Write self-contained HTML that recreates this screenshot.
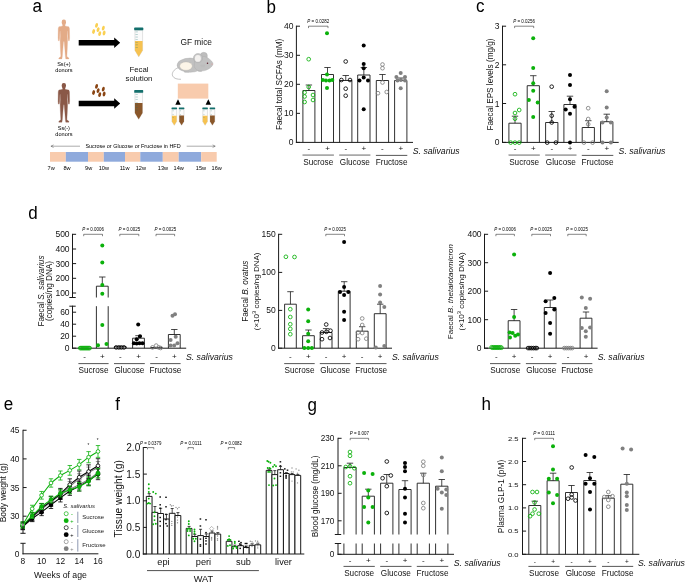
<!DOCTYPE html>
<html lang="en"><head><meta charset="utf-8"><title>Figure</title>
<style>html,body{margin:0;padding:0;background:#fff}svg{display:block;will-change:transform}text{font-family:"Liberation Sans",sans-serif}</style>
</head><body>
<svg width="685" height="582" viewBox="0 0 685 582">
<rect width="685" height="582" fill="#fff"/>
<text x="32.4" y="12.3" font-size="18" fill="#000" textLength="9.46" lengthAdjust="spacingAndGlyphs">a</text>
<text x="266.5" y="12.7" font-size="18" fill="#000" textLength="9.46" lengthAdjust="spacingAndGlyphs">b</text>
<text x="476.0" y="12.3" font-size="18" fill="#000" textLength="8.50" lengthAdjust="spacingAndGlyphs">c</text>
<text x="28.2" y="218.6" font-size="18" fill="#000" textLength="9.46" lengthAdjust="spacingAndGlyphs">d</text>
<text x="3.8" y="410.4" font-size="18" fill="#000" textLength="9.46" lengthAdjust="spacingAndGlyphs">e</text>
<text x="115.3" y="410.4" font-size="18" fill="#000" textLength="4.73" lengthAdjust="spacingAndGlyphs">f</text>
<text x="307.6" y="410.6" font-size="18" fill="#000" textLength="9.46" lengthAdjust="spacingAndGlyphs">g</text>
<text x="481.6" y="410.2" font-size="18" fill="#000" textLength="9.46" lengthAdjust="spacingAndGlyphs">h</text>
<g transform="translate(63.85 19.1)" fill="#e3ab87"><rect x="-2.15" y="0.5" width="4.3" height="5.5" rx="2.0" ry="2.3"/><path d="M1.2 5.4L1.2 6.9L3.2 7.3L5.0 7.7L5.6 9.4L5.75 19.0L5.45 21.7L4.65 21.7L4.25 19.4L3.95 12.2L3.65 11.6L3.45 17.0L3.7 22.0L3.4 30.0L3.0 37.4L5.0 38.9L5.0 39.8L1.95 39.8L1.55 37.4L1.0 30.0L0.35 22.3L-0.35 22.3L-1.0 30.0L-1.55 37.4L-1.95 39.8L-5.0 39.8L-5.0 38.9L-3.0 37.4L-3.4 30.0L-3.7 22.0L-3.45 17.0L-3.65 11.6L-3.95 12.2L-4.25 19.4L-4.65 21.7L-5.45 21.7L-5.75 19.0L-5.6 9.4L-5.0 7.7L-3.2 7.3L-1.2 6.9L-1.2 5.4Z" stroke="#e3ab87" stroke-width="0.3" stroke-linejoin="round"/></g>
<g transform="translate(63.85 82.4)" fill="#8a5847"><rect x="-2.15" y="0.5" width="4.3" height="5.5" rx="2.0" ry="2.3"/><path d="M1.2 5.4L1.2 6.9L3.2 7.3L5.0 7.7L5.6 9.4L5.75 19.0L5.45 21.7L4.65 21.7L4.25 19.4L3.95 12.2L3.65 11.6L3.45 17.0L3.7 22.0L3.4 30.0L3.0 37.4L5.0 38.9L5.0 39.8L1.95 39.8L1.55 37.4L1.0 30.0L0.35 22.3L-0.35 22.3L-1.0 30.0L-1.55 37.4L-1.95 39.8L-5.0 39.8L-5.0 38.9L-3.0 37.4L-3.4 30.0L-3.7 22.0L-3.45 17.0L-3.65 11.6L-3.95 12.2L-4.25 19.4L-4.65 21.7L-5.45 21.7L-5.75 19.0L-5.6 9.4L-5.0 7.7L-3.2 7.3L-1.2 6.9L-1.2 5.4Z" stroke="#8a5847" stroke-width="0.3" stroke-linejoin="round"/></g>
<path d="M78.7 40.00H114.2V37.40L120.2 42.70L114.2 48.00V45.40H78.7Z" fill="#000"/>
<path d="M78.7 100.80H114.2V98.20L120.2 103.50L114.2 108.80V106.20H78.7Z" fill="#000"/>
<ellipse cx="96.55" cy="25.40" rx="1.4" ry="2.45" fill="#fad052" transform="rotate(16 96.55 25.40)"/>
<ellipse cx="93.6" cy="31.50" rx="1.4" ry="2.45" fill="#fad052" transform="rotate(16 93.6 31.50)"/>
<ellipse cx="98.1" cy="29.60" rx="1.4" ry="2.45" fill="#fad052" transform="rotate(16 98.1 29.60)"/>
<ellipse cx="103.3" cy="28.10" rx="1.4" ry="2.45" fill="#fad052" transform="rotate(16 103.3 28.10)"/>
<ellipse cx="99.7" cy="33.60" rx="1.4" ry="2.45" fill="#fad052" transform="rotate(16 99.7 33.60)"/>
<ellipse cx="104.1" cy="33.00" rx="1.4" ry="2.45" fill="#fad052" transform="rotate(16 104.1 33.00)"/>
<ellipse cx="96.55" cy="86.40" rx="1.4" ry="2.45" fill="#8a4513" transform="rotate(16 96.55 86.40)"/>
<ellipse cx="93.6" cy="92.50" rx="1.4" ry="2.45" fill="#8a4513" transform="rotate(16 93.6 92.50)"/>
<ellipse cx="98.1" cy="90.60" rx="1.4" ry="2.45" fill="#8a4513" transform="rotate(16 98.1 90.60)"/>
<ellipse cx="103.3" cy="89.10" rx="1.4" ry="2.45" fill="#8a4513" transform="rotate(16 103.3 89.10)"/>
<ellipse cx="99.7" cy="94.60" rx="1.4" ry="2.45" fill="#8a4513" transform="rotate(16 99.7 94.60)"/>
<ellipse cx="104.1" cy="94.00" rx="1.4" ry="2.45" fill="#8a4513" transform="rotate(16 104.1 94.00)"/>
<path d="M134.93 30.30V50.40L138.75 56.80L142.57 50.40V30.30Z" fill="#fbfbfb" stroke="#c9c9c9" stroke-width="0.5"/>
<path d="M134.93 40.90V50.40L138.75 56.80L142.57 50.40V40.90Z" fill="#f6c251"/>
<rect x="134.20" y="27.60" width="9.10" height="2.70" rx="0.6" fill="#136f6c"/>
<line x1="135.53" y1="31.90" x2="137.84" y2="31.90" stroke="#136f6c" stroke-width="0.4" opacity="0.75"/>
<line x1="135.53" y1="34.49" x2="137.84" y2="34.49" stroke="#136f6c" stroke-width="0.4" opacity="0.75"/>
<line x1="135.53" y1="37.07" x2="137.84" y2="37.07" stroke="#136f6c" stroke-width="0.4" opacity="0.75"/>
<line x1="135.53" y1="39.66" x2="137.84" y2="39.66" stroke="#136f6c" stroke-width="0.4" opacity="0.75"/>
<line x1="135.53" y1="42.24" x2="137.84" y2="42.24" stroke="#136f6c" stroke-width="0.4" opacity="0.75"/>
<line x1="135.53" y1="44.83" x2="137.84" y2="44.83" stroke="#136f6c" stroke-width="0.4" opacity="0.75"/>
<line x1="135.53" y1="47.41" x2="137.84" y2="47.41" stroke="#136f6c" stroke-width="0.4" opacity="0.75"/>
<path d="M134.92 92.80V113.00L138.70 119.30L142.48 113.00V92.80Z" fill="#fbfbfb" stroke="#c9c9c9" stroke-width="0.5"/>
<path d="M134.92 103.00V113.00L138.70 119.30L142.48 113.00V103.00Z" fill="#8a572a"/>
<rect x="134.20" y="90.10" width="9.00" height="2.70" rx="0.6" fill="#136f6c"/>
<line x1="135.52" y1="94.40" x2="137.80" y2="94.40" stroke="#136f6c" stroke-width="0.4" opacity="0.75"/>
<line x1="135.52" y1="97.00" x2="137.80" y2="97.00" stroke="#136f6c" stroke-width="0.4" opacity="0.75"/>
<line x1="135.52" y1="99.60" x2="137.80" y2="99.60" stroke="#136f6c" stroke-width="0.4" opacity="0.75"/>
<line x1="135.52" y1="102.20" x2="137.80" y2="102.20" stroke="#136f6c" stroke-width="0.4" opacity="0.75"/>
<line x1="135.52" y1="104.80" x2="137.80" y2="104.80" stroke="#136f6c" stroke-width="0.4" opacity="0.75"/>
<line x1="135.52" y1="107.40" x2="137.80" y2="107.40" stroke="#136f6c" stroke-width="0.4" opacity="0.75"/>
<line x1="135.52" y1="110.00" x2="137.80" y2="110.00" stroke="#136f6c" stroke-width="0.4" opacity="0.75"/>
<path d="M171.95 109.20V121.60L174.30 125.30L176.65 121.60V109.20Z" fill="#fbfbfb" stroke="#c9c9c9" stroke-width="0.5"/>
<path d="M171.95 115.80V121.60L174.30 125.30L176.65 121.60V115.80Z" fill="#f6c251"/>
<rect x="171.50" y="107.50" width="5.60" height="1.70" rx="0.6" fill="#136f6c"/>
<line x1="172.55" y1="110.80" x2="173.74" y2="110.80" stroke="#136f6c" stroke-width="0.4" opacity="0.75"/>
<line x1="172.55" y1="114.27" x2="173.74" y2="114.27" stroke="#136f6c" stroke-width="0.4" opacity="0.75"/>
<line x1="172.55" y1="117.73" x2="173.74" y2="117.73" stroke="#136f6c" stroke-width="0.4" opacity="0.75"/>
<path d="M179.25 109.20V121.60L181.60 125.30L183.95 121.60V109.20Z" fill="#fbfbfb" stroke="#c9c9c9" stroke-width="0.5"/>
<path d="M179.25 115.60V121.60L181.60 125.30L183.95 121.60V115.60Z" fill="#8a572a"/>
<rect x="178.80" y="107.50" width="5.60" height="1.70" rx="0.6" fill="#136f6c"/>
<line x1="179.85" y1="110.80" x2="181.04" y2="110.80" stroke="#136f6c" stroke-width="0.4" opacity="0.75"/>
<line x1="179.85" y1="114.27" x2="181.04" y2="114.27" stroke="#136f6c" stroke-width="0.4" opacity="0.75"/>
<line x1="179.85" y1="117.73" x2="181.04" y2="117.73" stroke="#136f6c" stroke-width="0.4" opacity="0.75"/>
<path d="M202.75 109.20V121.60L205.10 125.30L207.45 121.60V109.20Z" fill="#fbfbfb" stroke="#c9c9c9" stroke-width="0.5"/>
<path d="M202.75 115.80V121.60L205.10 125.30L207.45 121.60V115.80Z" fill="#f6c251"/>
<rect x="202.30" y="107.50" width="5.60" height="1.70" rx="0.6" fill="#136f6c"/>
<line x1="203.35" y1="110.80" x2="204.54" y2="110.80" stroke="#136f6c" stroke-width="0.4" opacity="0.75"/>
<line x1="203.35" y1="114.27" x2="204.54" y2="114.27" stroke="#136f6c" stroke-width="0.4" opacity="0.75"/>
<line x1="203.35" y1="117.73" x2="204.54" y2="117.73" stroke="#136f6c" stroke-width="0.4" opacity="0.75"/>
<path d="M210.05 109.20V121.60L212.40 125.30L214.75 121.60V109.20Z" fill="#fbfbfb" stroke="#c9c9c9" stroke-width="0.5"/>
<path d="M210.05 115.60V121.60L212.40 125.30L214.75 121.60V115.60Z" fill="#8a572a"/>
<rect x="209.60" y="107.50" width="5.60" height="1.70" rx="0.6" fill="#136f6c"/>
<line x1="210.65" y1="110.80" x2="211.84" y2="110.80" stroke="#136f6c" stroke-width="0.4" opacity="0.75"/>
<line x1="210.65" y1="114.27" x2="211.84" y2="114.27" stroke="#136f6c" stroke-width="0.4" opacity="0.75"/>
<line x1="210.65" y1="117.73" x2="211.84" y2="117.73" stroke="#136f6c" stroke-width="0.4" opacity="0.75"/>
<text x="63.90" y="66.00" font-size="5.6" text-anchor="middle" fill="#000">Ss(+)</text>
<text x="63.90" y="72.40" font-size="5.6" text-anchor="middle" fill="#000">donors</text>
<text x="63.90" y="129.90" font-size="5.6" text-anchor="middle" fill="#000">Ss(-)</text>
<text x="63.90" y="136.20" font-size="5.6" text-anchor="middle" fill="#000">donors</text>
<text x="139.00" y="72.00" font-size="7.8" text-anchor="middle" fill="#111">Fecal</text>
<text x="139.00" y="80.90" font-size="7.8" text-anchor="middle" fill="#111">solution</text>
<text x="196.20" y="44.70" font-size="8.4" text-anchor="middle" fill="#111">GF mice</text>
<g>
<path d="M177.8 67.8C174 69.4 171.4 72.8 172.6 75.9C173.8 78.6 177.4 79.4 180.6 79.3" fill="none" stroke="#9a9a9a" stroke-width="0.6" stroke-linecap="round"/>
<circle cx="203.8" cy="55.9" r="3.6" fill="#bdbdbd" stroke="#a6a6a6" stroke-width="0.35"/>
<ellipse cx="186.6" cy="71.7" rx="2.6" ry="0.9" fill="#b9b9b9"/>
<ellipse cx="200.0" cy="70.8" rx="2.4" ry="0.9" fill="#b9b9b9"/>
<ellipse cx="190.0" cy="65.2" rx="12.9" ry="7.1" fill="#c1c1c1" stroke="#a9a9a9" stroke-width="0.4"/>
<path d="M194.6 60.2C196.5 56.2 203.5 55.0 208.0 58.0C211.0 60.2 213.2 62.4 213.0 64.0C212.7 66.2 209.6 69.2 204.6 70.6C199.4 71.8 195.2 70.2 194.2 66.2Z" fill="#c1c1c1" stroke="#a9a9a9" stroke-width="0.4"/>
<circle cx="198.0" cy="58.1" r="4.6" fill="#c4c4c4" stroke="#a6a6a6" stroke-width="0.4"/>
<ellipse cx="197.9" cy="58.4" rx="3.0" ry="3.4" fill="#f3f1ef"/>
<ellipse cx="186.0" cy="66.1" rx="6.3" ry="4.2" fill="#fcf5e8" stroke="#b5b0a8" stroke-width="0.3"/>
<path d="M200.4 65.4H205M200.8 66.6H204.6" stroke="#b0b0b0" stroke-width="0.3" fill="none"/>
<circle cx="207.5" cy="63.3" r="0.75" fill="#5a1e2a"/>
<circle cx="212.0" cy="64.1" r="0.7" fill="#e3a3a3"/>
</g>
<rect x="177.8" y="83.6" width="30.5" height="15.0" fill="#f8cbad"/>
<path d="M175.30 104.7L178.00 99.2L180.70 104.7Z" fill="#000"/>
<path d="M205.60 104.7L208.30 99.2L211.00 104.7Z" fill="#000"/>
<path d="M80 146.2H51.2M53.6 144.9L50.9 146.2L53.6 147.5" fill="none" stroke="#444" stroke-width="0.45"/>
<path d="M186.7 146.2H215M212.6 144.9L215.3 146.2L212.6 147.5" fill="none" stroke="#444" stroke-width="0.45"/>
<text x="133.00" y="148.30" font-size="5.45" text-anchor="middle" fill="#000">Sucrose or Glucose or Fructose in HFD</text>
<rect x="50.00" y="152.0" width="15.80" height="9.7" fill="#f8cbad"/>
<rect x="65.80" y="152.0" width="22.20" height="9.7" fill="#8faadc"/>
<rect x="88.00" y="152.0" width="15.80" height="9.7" fill="#f8cbad"/>
<rect x="103.80" y="152.0" width="21.20" height="9.7" fill="#8faadc"/>
<rect x="125.00" y="152.0" width="15.30" height="9.7" fill="#f8cbad"/>
<rect x="140.30" y="152.0" width="22.50" height="9.7" fill="#8faadc"/>
<rect x="162.80" y="152.0" width="15.90" height="9.7" fill="#f8cbad"/>
<rect x="178.70" y="152.0" width="22.50" height="9.7" fill="#8faadc"/>
<rect x="201.20" y="152.0" width="15.50" height="9.7" fill="#f8cbad"/>
<text x="51.20" y="169.50" font-size="5.6" text-anchor="middle" fill="#000">7w</text>
<text x="67.00" y="169.50" font-size="5.6" text-anchor="middle" fill="#000">8w</text>
<text x="88.70" y="169.50" font-size="5.6" text-anchor="middle" fill="#000">9w</text>
<text x="103.80" y="169.50" font-size="5.6" text-anchor="middle" fill="#000">10w</text>
<text x="124.60" y="169.50" font-size="5.6" text-anchor="middle" fill="#000">11w</text>
<text x="140.80" y="169.50" font-size="5.6" text-anchor="middle" fill="#000">12w</text>
<text x="163.00" y="169.50" font-size="5.6" text-anchor="middle" fill="#000">13w</text>
<text x="178.70" y="169.50" font-size="5.6" text-anchor="middle" fill="#000">14w</text>
<text x="201.00" y="169.50" font-size="5.6" text-anchor="middle" fill="#000">15w</text>
<text x="216.70" y="169.50" font-size="5.6" text-anchor="middle" fill="#000">16w</text>
<path d="M302.90 142.40V90.50H314.90V142.40" fill="#fff" stroke="#1a1a1a" stroke-width="0.9"/>
<path d="M321.50 142.40V74.50H333.50V142.40" fill="#fff" stroke="#1a1a1a" stroke-width="0.9"/>
<path d="M339.60 142.40V80.50H351.90V142.40" fill="#fff" stroke="#1a1a1a" stroke-width="0.9"/>
<path d="M357.70 142.40V75.00H370.00V142.40" fill="#fff" stroke="#1a1a1a" stroke-width="0.9"/>
<path d="M376.30 142.40V80.50H388.60V142.40" fill="#fff" stroke="#1a1a1a" stroke-width="0.9"/>
<path d="M394.60 142.40V80.50H406.90V142.40" fill="#fff" stroke="#1a1a1a" stroke-width="0.9"/>
<line x1="308.90" y1="90.50" x2="308.90" y2="85.00" stroke="#1a1a1a" stroke-width="0.8"/>
<line x1="305.70" y1="85.00" x2="312.10" y2="85.00" stroke="#1a1a1a" stroke-width="0.8"/>
<line x1="327.50" y1="74.50" x2="327.50" y2="67.50" stroke="#1a1a1a" stroke-width="0.8"/>
<line x1="324.30" y1="67.50" x2="330.70" y2="67.50" stroke="#1a1a1a" stroke-width="0.8"/>
<line x1="345.75" y1="80.50" x2="345.75" y2="75.50" stroke="#1a1a1a" stroke-width="0.8"/>
<line x1="342.55" y1="75.50" x2="348.95" y2="75.50" stroke="#1a1a1a" stroke-width="0.8"/>
<line x1="363.85" y1="75.00" x2="363.85" y2="67.50" stroke="#1a1a1a" stroke-width="0.8"/>
<line x1="360.65" y1="67.50" x2="367.05" y2="67.50" stroke="#1a1a1a" stroke-width="0.8"/>
<line x1="382.45" y1="80.50" x2="382.45" y2="74.50" stroke="#1a1a1a" stroke-width="0.8"/>
<line x1="379.25" y1="74.50" x2="385.65" y2="74.50" stroke="#1a1a1a" stroke-width="0.8"/>
<line x1="400.75" y1="80.50" x2="400.75" y2="78.00" stroke="#1a1a1a" stroke-width="0.8"/>
<line x1="397.55" y1="78.00" x2="403.95" y2="78.00" stroke="#1a1a1a" stroke-width="0.8"/>
<line x1="296.40" y1="25.70" x2="296.40" y2="142.90" stroke="#1a1a1a" stroke-width="1"/>
<line x1="295.90" y1="142.40" x2="413.00" y2="142.40" stroke="#1a1a1a" stroke-width="1"/>
<line x1="296.40" y1="26.20" x2="300.00" y2="26.20" stroke="#1a1a1a" stroke-width="1"/>
<text x="293.50" y="29.26" font-size="8.5" text-anchor="end" fill="#111">40</text>
<line x1="296.40" y1="55.30" x2="300.00" y2="55.30" stroke="#1a1a1a" stroke-width="1"/>
<text x="293.50" y="58.36" font-size="8.5" text-anchor="end" fill="#111">30</text>
<line x1="296.40" y1="84.30" x2="300.00" y2="84.30" stroke="#1a1a1a" stroke-width="1"/>
<text x="293.50" y="87.36" font-size="8.5" text-anchor="end" fill="#111">20</text>
<line x1="296.40" y1="113.35" x2="300.00" y2="113.35" stroke="#1a1a1a" stroke-width="1"/>
<text x="293.50" y="116.41" font-size="8.5" text-anchor="end" fill="#111">10</text>
<line x1="296.40" y1="142.40" x2="300.00" y2="142.40" stroke="#1a1a1a" stroke-width="1"/>
<text x="293.50" y="145.46" font-size="8.5" text-anchor="end" fill="#111">0</text>
<circle cx="308.70" cy="59.20" r="1.85" fill="#fff" fill-opacity="0.0" stroke="#0bb10b" stroke-width="0.85"/>
<circle cx="304.60" cy="92.50" r="1.85" fill="#fff" fill-opacity="0.0" stroke="#0bb10b" stroke-width="0.85"/>
<circle cx="313.00" cy="95.00" r="1.85" fill="#fff" fill-opacity="0.0" stroke="#0bb10b" stroke-width="0.85"/>
<circle cx="308.70" cy="87.00" r="1.85" fill="#fff" fill-opacity="0.0" stroke="#0bb10b" stroke-width="0.85"/>
<circle cx="304.60" cy="96.50" r="1.85" fill="#fff" fill-opacity="0.0" stroke="#0bb10b" stroke-width="0.85"/>
<circle cx="313.00" cy="100.00" r="1.85" fill="#fff" fill-opacity="0.0" stroke="#0bb10b" stroke-width="0.85"/>
<circle cx="304.60" cy="102.00" r="1.85" fill="#fff" fill-opacity="0.0" stroke="#0bb10b" stroke-width="0.85"/>
<circle cx="327.00" cy="33.20" r="2.00" fill="#0bb10b"/>
<circle cx="327.00" cy="74.50" r="2.00" fill="#0bb10b"/>
<circle cx="322.90" cy="80.00" r="2.00" fill="#0bb10b"/>
<circle cx="326.00" cy="80.60" r="2.00" fill="#0bb10b"/>
<circle cx="329.50" cy="80.60" r="2.00" fill="#0bb10b"/>
<circle cx="332.30" cy="80.00" r="2.00" fill="#0bb10b"/>
<circle cx="327.00" cy="88.00" r="2.00" fill="#0bb10b"/>
<circle cx="345.70" cy="61.50" r="1.85" fill="#fff" fill-opacity="0.0" stroke="#000000" stroke-width="0.85"/>
<circle cx="341.40" cy="80.00" r="1.85" fill="#fff" fill-opacity="0.0" stroke="#000000" stroke-width="0.85"/>
<circle cx="350.00" cy="80.00" r="1.85" fill="#fff" fill-opacity="0.0" stroke="#000000" stroke-width="0.85"/>
<circle cx="345.70" cy="88.70" r="1.85" fill="#fff" fill-opacity="0.0" stroke="#000000" stroke-width="0.85"/>
<circle cx="345.70" cy="95.70" r="1.85" fill="#fff" fill-opacity="0.0" stroke="#000000" stroke-width="0.85"/>
<circle cx="363.70" cy="45.50" r="2.00" fill="#000000"/>
<circle cx="363.70" cy="64.00" r="2.00" fill="#000000"/>
<circle cx="363.70" cy="68.20" r="2.00" fill="#000000"/>
<circle cx="359.50" cy="80.50" r="2.00" fill="#000000"/>
<circle cx="363.70" cy="77.50" r="2.00" fill="#000000"/>
<circle cx="368.00" cy="80.50" r="2.00" fill="#000000"/>
<circle cx="363.70" cy="109.20" r="2.00" fill="#000000"/>
<circle cx="382.50" cy="64.50" r="1.85" fill="#fff" fill-opacity="0.0" stroke="#808080" stroke-width="0.85"/>
<circle cx="382.50" cy="68.20" r="1.85" fill="#fff" fill-opacity="0.0" stroke="#808080" stroke-width="0.85"/>
<circle cx="382.50" cy="82.50" r="1.85" fill="#fff" fill-opacity="0.0" stroke="#808080" stroke-width="0.85"/>
<circle cx="378.00" cy="93.20" r="1.85" fill="#fff" fill-opacity="0.0" stroke="#808080" stroke-width="0.85"/>
<circle cx="386.70" cy="92.00" r="1.85" fill="#fff" fill-opacity="0.0" stroke="#808080" stroke-width="0.85"/>
<circle cx="400.70" cy="73.00" r="2.00" fill="#808080"/>
<circle cx="396.40" cy="77.00" r="2.00" fill="#808080"/>
<circle cx="405.00" cy="77.00" r="2.00" fill="#808080"/>
<circle cx="397.50" cy="80.60" r="2.00" fill="#808080"/>
<circle cx="400.90" cy="80.00" r="2.00" fill="#808080"/>
<circle cx="405.00" cy="80.60" r="2.00" fill="#808080"/>
<circle cx="400.70" cy="88.20" r="2.00" fill="#808080"/>
<text x="308.90" y="151.20" font-size="8" text-anchor="middle" fill="#111">-</text>
<text x="327.50" y="151.20" font-size="8" text-anchor="middle" fill="#111">+</text>
<text x="345.75" y="151.20" font-size="8" text-anchor="middle" fill="#111">-</text>
<text x="363.85" y="151.20" font-size="8" text-anchor="middle" fill="#111">+</text>
<text x="382.45" y="151.20" font-size="8" text-anchor="middle" fill="#111">-</text>
<text x="400.75" y="151.20" font-size="8" text-anchor="middle" fill="#111">+</text>
<line x1="302.50" y1="155.10" x2="333.90" y2="155.10" stroke="#9a9a9a" stroke-width="1.5"/>
<text x="318.20" y="164.90" font-size="8.2" text-anchor="middle" fill="#111">Sucrose</text>
<line x1="339.20" y1="155.10" x2="370.40" y2="155.10" stroke="#9a9a9a" stroke-width="1.5"/>
<text x="354.80" y="164.90" font-size="8.2" text-anchor="middle" fill="#111">Glucose</text>
<line x1="375.90" y1="155.40" x2="407.30" y2="155.40" stroke="#444" stroke-width="0.9"/>
<text x="391.60" y="164.90" font-size="8.2" text-anchor="middle" fill="#111">Fructose</text>
<text x="412.80" y="153.90" font-size="8.7" text-anchor="start" fill="#111" font-style="italic">S. salivarius</text>
<text x="281.60" y="130.10" font-size="8.6" fill="#111" textLength="91.4" lengthAdjust="spacingAndGlyphs" transform="rotate(-90 281.60 130.10)">Faecal total SCFAs (mM)</text>
<path d="M308.50 28.10V26.20H328.00V28.10" fill="none" stroke="#333" stroke-width="0.6"/>
<text x="307.35" y="22.90" font-size="5.1" fill="#000" textLength="21.8" lengthAdjust="spacingAndGlyphs"><tspan font-style="italic">P</tspan> = 0.0282</text>
<path d="M508.90 142.40V123.20H521.10V142.40" fill="#fff" stroke="#1a1a1a" stroke-width="0.9"/>
<path d="M527.20 142.40V85.70H539.40V142.40" fill="#fff" stroke="#1a1a1a" stroke-width="0.9"/>
<path d="M545.60 142.40V122.50H557.90V142.40" fill="#fff" stroke="#1a1a1a" stroke-width="0.9"/>
<path d="M563.90 142.40V104.50H576.10V142.40" fill="#fff" stroke="#1a1a1a" stroke-width="0.9"/>
<path d="M582.20 142.40V127.50H594.40V142.40" fill="#fff" stroke="#1a1a1a" stroke-width="0.9"/>
<path d="M600.60 142.40V121.70H612.90V142.40" fill="#fff" stroke="#1a1a1a" stroke-width="0.9"/>
<line x1="515.00" y1="123.20" x2="515.00" y2="116.20" stroke="#1a1a1a" stroke-width="0.8"/>
<line x1="511.80" y1="116.20" x2="518.20" y2="116.20" stroke="#1a1a1a" stroke-width="0.8"/>
<line x1="533.30" y1="85.70" x2="533.30" y2="75.70" stroke="#1a1a1a" stroke-width="0.8"/>
<line x1="530.10" y1="75.70" x2="536.50" y2="75.70" stroke="#1a1a1a" stroke-width="0.8"/>
<line x1="551.75" y1="122.50" x2="551.75" y2="111.50" stroke="#1a1a1a" stroke-width="0.8"/>
<line x1="548.55" y1="111.50" x2="554.95" y2="111.50" stroke="#1a1a1a" stroke-width="0.8"/>
<line x1="570.00" y1="104.50" x2="570.00" y2="96.20" stroke="#1a1a1a" stroke-width="0.8"/>
<line x1="566.80" y1="96.20" x2="573.20" y2="96.20" stroke="#1a1a1a" stroke-width="0.8"/>
<line x1="588.30" y1="127.50" x2="588.30" y2="120.70" stroke="#1a1a1a" stroke-width="0.8"/>
<line x1="585.10" y1="120.70" x2="591.50" y2="120.70" stroke="#1a1a1a" stroke-width="0.8"/>
<line x1="606.75" y1="121.70" x2="606.75" y2="114.20" stroke="#1a1a1a" stroke-width="0.8"/>
<line x1="603.55" y1="114.20" x2="609.95" y2="114.20" stroke="#1a1a1a" stroke-width="0.8"/>
<line x1="502.50" y1="25.70" x2="502.50" y2="142.90" stroke="#1a1a1a" stroke-width="1"/>
<line x1="502.00" y1="142.40" x2="618.70" y2="142.40" stroke="#1a1a1a" stroke-width="1"/>
<line x1="502.50" y1="26.20" x2="506.10" y2="26.20" stroke="#1a1a1a" stroke-width="1"/>
<text x="499.60" y="29.26" font-size="8.5" text-anchor="end" fill="#111">3</text>
<line x1="502.50" y1="64.80" x2="506.10" y2="64.80" stroke="#1a1a1a" stroke-width="1"/>
<text x="499.60" y="67.86" font-size="8.5" text-anchor="end" fill="#111">2</text>
<line x1="502.50" y1="103.50" x2="506.10" y2="103.50" stroke="#1a1a1a" stroke-width="1"/>
<text x="499.60" y="106.56" font-size="8.5" text-anchor="end" fill="#111">1</text>
<line x1="502.50" y1="142.40" x2="506.10" y2="142.40" stroke="#1a1a1a" stroke-width="1"/>
<text x="499.60" y="145.46" font-size="8.5" text-anchor="end" fill="#111">0</text>
<circle cx="515.00" cy="94.20" r="1.85" fill="#fff" fill-opacity="0.0" stroke="#0bb10b" stroke-width="0.85"/>
<circle cx="519.20" cy="110.00" r="1.85" fill="#fff" fill-opacity="0.0" stroke="#0bb10b" stroke-width="0.85"/>
<circle cx="515.00" cy="113.00" r="1.85" fill="#fff" fill-opacity="0.0" stroke="#0bb10b" stroke-width="0.85"/>
<circle cx="515.00" cy="118.70" r="1.85" fill="#fff" fill-opacity="0.0" stroke="#0bb10b" stroke-width="0.85"/>
<circle cx="510.70" cy="142.60" r="1.85" fill="#fff" fill-opacity="0.0" stroke="#0bb10b" stroke-width="0.85"/>
<circle cx="515.00" cy="142.60" r="1.85" fill="#fff" fill-opacity="0.0" stroke="#0bb10b" stroke-width="0.85"/>
<circle cx="519.20" cy="142.60" r="1.85" fill="#fff" fill-opacity="0.0" stroke="#0bb10b" stroke-width="0.85"/>
<circle cx="533.20" cy="38.20" r="2.00" fill="#0bb10b"/>
<circle cx="533.20" cy="68.00" r="2.00" fill="#0bb10b"/>
<circle cx="533.20" cy="83.20" r="2.00" fill="#0bb10b"/>
<circle cx="533.20" cy="90.70" r="2.00" fill="#0bb10b"/>
<circle cx="528.90" cy="100.00" r="2.00" fill="#0bb10b"/>
<circle cx="537.70" cy="102.50" r="2.00" fill="#0bb10b"/>
<circle cx="533.20" cy="117.00" r="2.00" fill="#0bb10b"/>
<circle cx="551.70" cy="86.70" r="1.85" fill="#fff" fill-opacity="0.0" stroke="#000000" stroke-width="0.85"/>
<circle cx="551.70" cy="115.70" r="1.85" fill="#fff" fill-opacity="0.0" stroke="#000000" stroke-width="0.85"/>
<circle cx="551.70" cy="122.50" r="1.85" fill="#fff" fill-opacity="0.0" stroke="#000000" stroke-width="0.85"/>
<circle cx="547.20" cy="142.60" r="1.85" fill="#fff" fill-opacity="0.0" stroke="#000000" stroke-width="0.85"/>
<circle cx="555.90" cy="142.60" r="1.85" fill="#fff" fill-opacity="0.0" stroke="#000000" stroke-width="0.85"/>
<circle cx="570.00" cy="75.00" r="2.00" fill="#000000"/>
<circle cx="570.00" cy="85.00" r="2.00" fill="#000000"/>
<circle cx="570.00" cy="99.20" r="2.00" fill="#000000"/>
<circle cx="565.70" cy="109.50" r="2.00" fill="#000000"/>
<circle cx="574.50" cy="106.70" r="2.00" fill="#000000"/>
<circle cx="570.00" cy="113.70" r="2.00" fill="#000000"/>
<circle cx="570.00" cy="142.60" r="2.00" fill="#000000"/>
<circle cx="588.20" cy="108.20" r="1.85" fill="#fff" fill-opacity="0.0" stroke="#808080" stroke-width="0.85"/>
<circle cx="588.20" cy="119.00" r="1.85" fill="#fff" fill-opacity="0.0" stroke="#808080" stroke-width="0.85"/>
<circle cx="588.20" cy="124.20" r="1.85" fill="#fff" fill-opacity="0.0" stroke="#808080" stroke-width="0.85"/>
<circle cx="583.90" cy="142.60" r="1.85" fill="#fff" fill-opacity="0.0" stroke="#808080" stroke-width="0.85"/>
<circle cx="592.60" cy="142.60" r="1.85" fill="#fff" fill-opacity="0.0" stroke="#808080" stroke-width="0.85"/>
<circle cx="606.70" cy="91.20" r="2.00" fill="#808080"/>
<circle cx="606.70" cy="107.50" r="2.00" fill="#808080"/>
<circle cx="606.70" cy="117.50" r="2.00" fill="#808080"/>
<circle cx="602.50" cy="122.50" r="2.00" fill="#808080"/>
<circle cx="610.90" cy="122.50" r="2.00" fill="#808080"/>
<circle cx="602.50" cy="142.60" r="2.00" fill="#808080"/>
<circle cx="610.90" cy="142.60" r="2.00" fill="#808080"/>
<text x="515.00" y="151.20" font-size="8" text-anchor="middle" fill="#111">-</text>
<text x="533.30" y="151.20" font-size="8" text-anchor="middle" fill="#111">+</text>
<text x="551.75" y="151.20" font-size="8" text-anchor="middle" fill="#111">-</text>
<text x="570.00" y="151.20" font-size="8" text-anchor="middle" fill="#111">+</text>
<text x="588.30" y="151.20" font-size="8" text-anchor="middle" fill="#111">-</text>
<text x="606.75" y="151.20" font-size="8" text-anchor="middle" fill="#111">+</text>
<line x1="508.50" y1="155.10" x2="539.80" y2="155.10" stroke="#9a9a9a" stroke-width="1.5"/>
<text x="524.15" y="164.90" font-size="8.2" text-anchor="middle" fill="#111">Sucrose</text>
<line x1="545.20" y1="155.10" x2="576.50" y2="155.10" stroke="#9a9a9a" stroke-width="1.5"/>
<text x="560.85" y="164.90" font-size="8.2" text-anchor="middle" fill="#111">Glucose</text>
<line x1="581.80" y1="155.40" x2="613.30" y2="155.40" stroke="#444" stroke-width="0.9"/>
<text x="597.55" y="164.90" font-size="8.2" text-anchor="middle" fill="#111">Fructose</text>
<text x="618.60" y="153.90" font-size="8.7" text-anchor="start" fill="#111" font-style="italic">S. salivarius</text>
<text x="493.00" y="130.50" font-size="8.6" fill="#111" textLength="92.0" lengthAdjust="spacingAndGlyphs" transform="rotate(-90 493.00 130.50)">Faecal EPS levels (mg/g)</text>
<path d="M514.60 28.10V26.20H533.70V28.10" fill="none" stroke="#333" stroke-width="0.6"/>
<text x="513.25" y="22.90" font-size="5.1" fill="#000" textLength="21.8" lengthAdjust="spacingAndGlyphs"><tspan font-style="italic">P</tspan> = 0.0256</text>
<path d="M96.40 297.50V286.20H108.20V297.50" fill="#fff" stroke="#1a1a1a" stroke-width="0.9"/>
<path d="M96.40 348.20V306.20M108.20 306.20V348.20" fill="none" stroke="#1a1a1a" stroke-width="0.9"/>
<path d="M114.40 348.20V346.70H126.20V348.20" fill="#fff" stroke="#1a1a1a" stroke-width="0.9"/>
<path d="M132.60 348.20V338.20H144.40V348.20" fill="#fff" stroke="#1a1a1a" stroke-width="0.9"/>
<path d="M150.60 348.20V347.60H162.40V348.20" fill="#fff" stroke="#1a1a1a" stroke-width="0.9"/>
<path d="M168.40 348.20V334.50H180.20V348.20" fill="#fff" stroke="#1a1a1a" stroke-width="0.9"/>
<line x1="102.30" y1="286.20" x2="102.30" y2="277.00" stroke="#1a1a1a" stroke-width="0.8"/>
<line x1="99.10" y1="277.00" x2="105.50" y2="277.00" stroke="#1a1a1a" stroke-width="0.8"/>
<line x1="138.50" y1="338.20" x2="138.50" y2="335.70" stroke="#1a1a1a" stroke-width="0.8"/>
<line x1="135.30" y1="335.70" x2="141.70" y2="335.70" stroke="#1a1a1a" stroke-width="0.8"/>
<line x1="174.30" y1="334.50" x2="174.30" y2="329.50" stroke="#1a1a1a" stroke-width="0.8"/>
<line x1="171.10" y1="329.50" x2="177.50" y2="329.50" stroke="#1a1a1a" stroke-width="0.8"/>
<line x1="72.50" y1="233.80" x2="72.50" y2="298.00" stroke="#1a1a1a" stroke-width="1"/>
<line x1="72.50" y1="305.70" x2="72.50" y2="348.70" stroke="#1a1a1a" stroke-width="1"/>
<line x1="69.30" y1="297.50" x2="75.70" y2="297.50" stroke="#1a1a1a" stroke-width="1"/>
<line x1="69.30" y1="306.20" x2="75.70" y2="306.20" stroke="#1a1a1a" stroke-width="1"/>
<line x1="72.00" y1="348.20" x2="186.20" y2="348.20" stroke="#1a1a1a" stroke-width="1"/>
<line x1="72.50" y1="234.30" x2="76.10" y2="234.30" stroke="#1a1a1a" stroke-width="1"/>
<text x="69.60" y="237.36" font-size="8.5" text-anchor="end" fill="#111">500</text>
<line x1="72.50" y1="249.00" x2="76.10" y2="249.00" stroke="#1a1a1a" stroke-width="1"/>
<text x="69.60" y="252.06" font-size="8.5" text-anchor="end" fill="#111">400</text>
<line x1="72.50" y1="263.60" x2="76.10" y2="263.60" stroke="#1a1a1a" stroke-width="1"/>
<text x="69.60" y="266.66" font-size="8.5" text-anchor="end" fill="#111">300</text>
<line x1="72.50" y1="278.30" x2="76.10" y2="278.30" stroke="#1a1a1a" stroke-width="1"/>
<text x="69.60" y="281.36" font-size="8.5" text-anchor="end" fill="#111">200</text>
<line x1="72.50" y1="293.00" x2="76.10" y2="293.00" stroke="#1a1a1a" stroke-width="1"/>
<text x="69.60" y="296.06" font-size="8.5" text-anchor="end" fill="#111">100</text>
<line x1="72.50" y1="312.20" x2="76.10" y2="312.20" stroke="#1a1a1a" stroke-width="1"/>
<text x="69.60" y="315.26" font-size="8.5" text-anchor="end" fill="#111">60</text>
<line x1="72.50" y1="324.20" x2="76.10" y2="324.20" stroke="#1a1a1a" stroke-width="1"/>
<text x="69.60" y="327.26" font-size="8.5" text-anchor="end" fill="#111">40</text>
<line x1="72.50" y1="336.20" x2="76.10" y2="336.20" stroke="#1a1a1a" stroke-width="1"/>
<text x="69.60" y="339.26" font-size="8.5" text-anchor="end" fill="#111">20</text>
<line x1="72.50" y1="348.20" x2="76.10" y2="348.20" stroke="#1a1a1a" stroke-width="1"/>
<text x="69.60" y="351.26" font-size="8.5" text-anchor="end" fill="#111">0</text>
<circle cx="80.20" cy="348.10" r="1.85" fill="#fff" fill-opacity="0.0" stroke="#0bb10b" stroke-width="0.85"/>
<circle cx="81.25" cy="348.10" r="1.85" fill="#fff" fill-opacity="0.0" stroke="#0bb10b" stroke-width="0.85"/>
<circle cx="82.30" cy="348.10" r="1.85" fill="#fff" fill-opacity="0.0" stroke="#0bb10b" stroke-width="0.85"/>
<circle cx="83.35" cy="348.10" r="1.85" fill="#fff" fill-opacity="0.0" stroke="#0bb10b" stroke-width="0.85"/>
<circle cx="84.40" cy="348.10" r="1.85" fill="#fff" fill-opacity="0.0" stroke="#0bb10b" stroke-width="0.85"/>
<circle cx="85.45" cy="348.10" r="1.85" fill="#fff" fill-opacity="0.0" stroke="#0bb10b" stroke-width="0.85"/>
<circle cx="86.50" cy="348.10" r="1.85" fill="#fff" fill-opacity="0.0" stroke="#0bb10b" stroke-width="0.85"/>
<circle cx="87.55" cy="348.10" r="1.85" fill="#fff" fill-opacity="0.0" stroke="#0bb10b" stroke-width="0.85"/>
<circle cx="88.60" cy="348.10" r="1.85" fill="#fff" fill-opacity="0.0" stroke="#0bb10b" stroke-width="0.85"/>
<circle cx="89.65" cy="348.10" r="1.85" fill="#fff" fill-opacity="0.0" stroke="#0bb10b" stroke-width="0.85"/>
<circle cx="102.30" cy="245.50" r="2.00" fill="#0bb10b"/>
<circle cx="102.30" cy="262.50" r="2.00" fill="#0bb10b"/>
<circle cx="102.30" cy="285.00" r="2.00" fill="#0bb10b"/>
<circle cx="102.30" cy="293.70" r="2.00" fill="#0bb10b"/>
<circle cx="102.30" cy="325.00" r="2.00" fill="#0bb10b"/>
<circle cx="98.00" cy="345.20" r="2.00" fill="#0bb10b"/>
<circle cx="106.50" cy="344.00" r="2.00" fill="#0bb10b"/>
<circle cx="116.20" cy="347.40" r="1.85" fill="#fff" fill-opacity="0.0" stroke="#000000" stroke-width="0.85"/>
<circle cx="118.80" cy="347.40" r="1.85" fill="#fff" fill-opacity="0.0" stroke="#000000" stroke-width="0.85"/>
<circle cx="121.40" cy="347.40" r="1.85" fill="#fff" fill-opacity="0.0" stroke="#000000" stroke-width="0.85"/>
<circle cx="124.00" cy="347.40" r="1.85" fill="#fff" fill-opacity="0.0" stroke="#000000" stroke-width="0.85"/>
<circle cx="138.20" cy="324.50" r="2.00" fill="#000000"/>
<circle cx="140.00" cy="336.20" r="2.00" fill="#000000"/>
<circle cx="136.70" cy="339.20" r="2.00" fill="#000000"/>
<circle cx="133.90" cy="343.20" r="2.00" fill="#000000"/>
<circle cx="136.70" cy="343.40" r="2.00" fill="#000000"/>
<circle cx="139.50" cy="343.20" r="2.00" fill="#000000"/>
<circle cx="142.50" cy="343.20" r="2.00" fill="#000000"/>
<circle cx="152.50" cy="347.40" r="1.85" fill="#fff" fill-opacity="0.0" stroke="#808080" stroke-width="0.85"/>
<circle cx="156.20" cy="345.60" r="1.85" fill="#fff" fill-opacity="0.0" stroke="#808080" stroke-width="0.85"/>
<circle cx="158.70" cy="347.40" r="1.85" fill="#fff" fill-opacity="0.0" stroke="#808080" stroke-width="0.85"/>
<circle cx="160.60" cy="348.00" r="1.85" fill="#fff" fill-opacity="0.0" stroke="#808080" stroke-width="0.85"/>
<circle cx="172.50" cy="315.70" r="2.00" fill="#808080"/>
<circle cx="175.00" cy="314.20" r="2.00" fill="#808080"/>
<circle cx="175.70" cy="336.70" r="2.00" fill="#808080"/>
<circle cx="170.60" cy="340.00" r="2.00" fill="#808080"/>
<circle cx="170.60" cy="345.50" r="2.00" fill="#808080"/>
<circle cx="174.20" cy="345.50" r="2.00" fill="#808080"/>
<circle cx="177.50" cy="343.20" r="2.00" fill="#808080"/>
<text x="84.70" y="359.00" font-size="8" text-anchor="middle" fill="#111">-</text>
<text x="102.30" y="359.00" font-size="8" text-anchor="middle" fill="#111">+</text>
<text x="120.30" y="359.00" font-size="8" text-anchor="middle" fill="#111">-</text>
<text x="138.50" y="359.00" font-size="8" text-anchor="middle" fill="#111">+</text>
<text x="156.50" y="359.00" font-size="8" text-anchor="middle" fill="#111">-</text>
<text x="174.30" y="359.00" font-size="8" text-anchor="middle" fill="#111">+</text>
<line x1="78.40" y1="363.60" x2="108.60" y2="363.60" stroke="#444" stroke-width="0.9"/>
<text x="93.50" y="373.20" font-size="8.2" text-anchor="middle" fill="#111">Sucrose</text>
<line x1="114.00" y1="363.60" x2="144.80" y2="363.60" stroke="#444" stroke-width="0.9"/>
<text x="129.40" y="373.20" font-size="8.2" text-anchor="middle" fill="#111">Glucose</text>
<line x1="150.20" y1="363.60" x2="180.60" y2="363.60" stroke="#444" stroke-width="0.9"/>
<text x="165.40" y="373.20" font-size="8.2" text-anchor="middle" fill="#111">Fructose</text>
<text x="186.00" y="359.60" font-size="8.7" text-anchor="start" fill="#111" font-style="italic">S. salivarius</text>
<text x="43.9" y="291" font-size="8.2" text-anchor="middle" fill="#111" transform="rotate(-90 43.9 291)">Faecal <tspan font-style="italic">S. salivarius</tspan></text>
<text x="52.40" y="291.00" font-size="8.2" text-anchor="middle" fill="#111" transform="rotate(-90 52.40 291.00)">(copies/ng DNA)</text>
<path d="M83.70 236.20V234.30H102.50V236.20" fill="none" stroke="#333" stroke-width="0.6"/>
<text x="82.20" y="231.00" font-size="5.1" fill="#000" textLength="21.8" lengthAdjust="spacingAndGlyphs"><tspan font-style="italic">P</tspan> = 0.0006</text>
<path d="M119.80 236.20V234.30H138.80V236.20" fill="none" stroke="#333" stroke-width="0.6"/>
<text x="118.40" y="231.00" font-size="5.1" fill="#000" textLength="21.8" lengthAdjust="spacingAndGlyphs"><tspan font-style="italic">P</tspan> = 0.0025</text>
<path d="M156.00 236.20V234.30H174.60V236.20" fill="none" stroke="#333" stroke-width="0.6"/>
<text x="154.40" y="231.00" font-size="5.1" fill="#000" textLength="21.8" lengthAdjust="spacingAndGlyphs"><tspan font-style="italic">P</tspan> = 0.0025</text>
<path d="M284.60 348.20V304.20H296.30V348.20" fill="#fff" stroke="#1a1a1a" stroke-width="0.9"/>
<path d="M302.60 348.20V335.70H314.30V348.20" fill="#fff" stroke="#1a1a1a" stroke-width="0.9"/>
<path d="M320.20 348.20V332.50H332.00V348.20" fill="#fff" stroke="#1a1a1a" stroke-width="0.9"/>
<path d="M338.30 348.20V291.20H350.10V348.20" fill="#fff" stroke="#1a1a1a" stroke-width="0.9"/>
<path d="M356.30 348.20V331.20H368.10V348.20" fill="#fff" stroke="#1a1a1a" stroke-width="0.9"/>
<path d="M374.30 348.20V313.70H386.10V348.20" fill="#fff" stroke="#1a1a1a" stroke-width="0.9"/>
<line x1="290.45" y1="304.20" x2="290.45" y2="291.70" stroke="#1a1a1a" stroke-width="0.8"/>
<line x1="287.25" y1="291.70" x2="293.65" y2="291.70" stroke="#1a1a1a" stroke-width="0.8"/>
<line x1="308.45" y1="335.70" x2="308.45" y2="330.00" stroke="#1a1a1a" stroke-width="0.8"/>
<line x1="305.25" y1="330.00" x2="311.65" y2="330.00" stroke="#1a1a1a" stroke-width="0.8"/>
<line x1="326.10" y1="332.50" x2="326.10" y2="328.60" stroke="#1a1a1a" stroke-width="0.8"/>
<line x1="322.90" y1="328.60" x2="329.30" y2="328.60" stroke="#1a1a1a" stroke-width="0.8"/>
<line x1="344.20" y1="291.20" x2="344.20" y2="281.70" stroke="#1a1a1a" stroke-width="0.8"/>
<line x1="341.00" y1="281.70" x2="347.40" y2="281.70" stroke="#1a1a1a" stroke-width="0.8"/>
<line x1="362.20" y1="331.20" x2="362.20" y2="326.70" stroke="#1a1a1a" stroke-width="0.8"/>
<line x1="359.00" y1="326.70" x2="365.40" y2="326.70" stroke="#1a1a1a" stroke-width="0.8"/>
<line x1="380.20" y1="313.70" x2="380.20" y2="304.20" stroke="#1a1a1a" stroke-width="0.8"/>
<line x1="377.00" y1="304.20" x2="383.40" y2="304.20" stroke="#1a1a1a" stroke-width="0.8"/>
<line x1="278.60" y1="233.80" x2="278.60" y2="348.70" stroke="#1a1a1a" stroke-width="1"/>
<line x1="278.10" y1="348.20" x2="392.00" y2="348.20" stroke="#1a1a1a" stroke-width="1"/>
<line x1="278.60" y1="234.30" x2="282.20" y2="234.30" stroke="#1a1a1a" stroke-width="1"/>
<text x="275.70" y="237.36" font-size="8.5" text-anchor="end" fill="#111">150</text>
<line x1="278.60" y1="272.40" x2="282.20" y2="272.40" stroke="#1a1a1a" stroke-width="1"/>
<text x="275.70" y="275.46" font-size="8.5" text-anchor="end" fill="#111">100</text>
<line x1="278.60" y1="310.40" x2="282.20" y2="310.40" stroke="#1a1a1a" stroke-width="1"/>
<text x="275.70" y="313.46" font-size="8.5" text-anchor="end" fill="#111">50</text>
<line x1="278.60" y1="348.20" x2="282.20" y2="348.20" stroke="#1a1a1a" stroke-width="1"/>
<text x="275.70" y="351.26" font-size="8.5" text-anchor="end" fill="#111">0</text>
<circle cx="285.90" cy="256.80" r="1.85" fill="#fff" fill-opacity="0.0" stroke="#0bb10b" stroke-width="0.85"/>
<circle cx="294.50" cy="257.00" r="1.85" fill="#fff" fill-opacity="0.0" stroke="#0bb10b" stroke-width="0.85"/>
<circle cx="290.30" cy="309.20" r="1.85" fill="#fff" fill-opacity="0.0" stroke="#0bb10b" stroke-width="0.85"/>
<circle cx="290.30" cy="317.00" r="1.85" fill="#fff" fill-opacity="0.0" stroke="#0bb10b" stroke-width="0.85"/>
<circle cx="290.30" cy="324.20" r="1.85" fill="#fff" fill-opacity="0.0" stroke="#0bb10b" stroke-width="0.85"/>
<circle cx="290.30" cy="328.90" r="1.85" fill="#fff" fill-opacity="0.0" stroke="#0bb10b" stroke-width="0.85"/>
<circle cx="290.30" cy="334.20" r="1.85" fill="#fff" fill-opacity="0.0" stroke="#0bb10b" stroke-width="0.85"/>
<circle cx="308.20" cy="309.50" r="2.00" fill="#0bb10b"/>
<circle cx="308.20" cy="321.20" r="2.00" fill="#0bb10b"/>
<circle cx="308.20" cy="333.70" r="2.00" fill="#0bb10b"/>
<circle cx="308.20" cy="341.20" r="2.00" fill="#0bb10b"/>
<circle cx="304.30" cy="347.90" r="2.00" fill="#0bb10b"/>
<circle cx="308.20" cy="347.90" r="2.00" fill="#0bb10b"/>
<circle cx="311.90" cy="347.90" r="2.00" fill="#0bb10b"/>
<circle cx="326.20" cy="324.50" r="1.85" fill="#fff" fill-opacity="0.0" stroke="#000000" stroke-width="0.85"/>
<circle cx="322.00" cy="332.50" r="1.85" fill="#fff" fill-opacity="0.0" stroke="#000000" stroke-width="0.85"/>
<circle cx="326.40" cy="331.80" r="1.85" fill="#fff" fill-opacity="0.0" stroke="#000000" stroke-width="0.85"/>
<circle cx="330.50" cy="330.70" r="1.85" fill="#fff" fill-opacity="0.0" stroke="#000000" stroke-width="0.85"/>
<circle cx="322.00" cy="339.20" r="1.85" fill="#fff" fill-opacity="0.0" stroke="#000000" stroke-width="0.85"/>
<circle cx="330.00" cy="338.00" r="1.85" fill="#fff" fill-opacity="0.0" stroke="#000000" stroke-width="0.85"/>
<circle cx="344.10" cy="242.00" r="2.00" fill="#000000"/>
<circle cx="344.10" cy="287.00" r="2.00" fill="#000000"/>
<circle cx="340.00" cy="292.00" r="2.00" fill="#000000"/>
<circle cx="348.30" cy="292.00" r="2.00" fill="#000000"/>
<circle cx="344.10" cy="295.00" r="2.00" fill="#000000"/>
<circle cx="344.10" cy="311.70" r="2.00" fill="#000000"/>
<circle cx="344.10" cy="320.00" r="2.00" fill="#000000"/>
<circle cx="362.20" cy="318.50" r="1.85" fill="#fff" fill-opacity="0.0" stroke="#808080" stroke-width="0.85"/>
<circle cx="362.20" cy="325.00" r="1.85" fill="#fff" fill-opacity="0.0" stroke="#808080" stroke-width="0.85"/>
<circle cx="358.10" cy="332.50" r="1.85" fill="#fff" fill-opacity="0.0" stroke="#808080" stroke-width="0.85"/>
<circle cx="362.20" cy="333.00" r="1.85" fill="#fff" fill-opacity="0.0" stroke="#808080" stroke-width="0.85"/>
<circle cx="358.10" cy="339.20" r="1.85" fill="#fff" fill-opacity="0.0" stroke="#808080" stroke-width="0.85"/>
<circle cx="366.30" cy="338.70" r="1.85" fill="#fff" fill-opacity="0.0" stroke="#808080" stroke-width="0.85"/>
<circle cx="380.10" cy="286.00" r="2.00" fill="#808080"/>
<circle cx="380.10" cy="294.50" r="2.00" fill="#808080"/>
<circle cx="380.10" cy="302.50" r="2.00" fill="#808080"/>
<circle cx="384.30" cy="307.00" r="2.00" fill="#808080"/>
<circle cx="375.80" cy="347.40" r="2.00" fill="#808080"/>
<circle cx="384.30" cy="346.00" r="2.00" fill="#808080"/>
<text x="290.45" y="359.00" font-size="8" text-anchor="middle" fill="#111">-</text>
<text x="308.45" y="359.00" font-size="8" text-anchor="middle" fill="#111">+</text>
<text x="326.10" y="359.00" font-size="8" text-anchor="middle" fill="#111">-</text>
<text x="344.20" y="359.00" font-size="8" text-anchor="middle" fill="#111">+</text>
<text x="362.20" y="359.00" font-size="8" text-anchor="middle" fill="#111">-</text>
<text x="380.20" y="359.00" font-size="8" text-anchor="middle" fill="#111">+</text>
<line x1="284.20" y1="363.60" x2="314.70" y2="363.60" stroke="#444" stroke-width="0.9"/>
<text x="299.45" y="373.20" font-size="8.2" text-anchor="middle" fill="#111">Sucrose</text>
<line x1="319.80" y1="363.60" x2="350.50" y2="363.60" stroke="#444" stroke-width="0.9"/>
<text x="335.15" y="373.20" font-size="8.2" text-anchor="middle" fill="#111">Glucose</text>
<line x1="355.90" y1="363.60" x2="386.50" y2="363.60" stroke="#444" stroke-width="0.9"/>
<text x="371.20" y="373.20" font-size="8.2" text-anchor="middle" fill="#111">Fructose</text>
<text x="391.90" y="359.60" font-size="8.7" text-anchor="start" fill="#111" font-style="italic">S. salivarius</text>
<text x="247.7" y="291.2" font-size="8.2" text-anchor="middle" fill="#111" transform="rotate(-90 247.7 291.2)">Faecal <tspan font-style="italic">B. ovatus</tspan></text>
<text x="258.9" y="291.4" font-size="8.0" text-anchor="middle" fill="#111" transform="rotate(-90 258.9 291.4)">(×10<tspan font-size="5.8" dy="-3.0">3</tspan><tspan dy="3.0"> copies/ng DNA)</tspan></text>
<path d="M325.80 236.20V234.30H344.50V236.20" fill="none" stroke="#333" stroke-width="0.6"/>
<text x="324.25" y="231.00" font-size="5.1" fill="#000" textLength="21.8" lengthAdjust="spacingAndGlyphs"><tspan font-style="italic">P</tspan> = 0.0025</text>
<path d="M508.20 348.20V320.70H520.00V348.20" fill="#fff" stroke="#1a1a1a" stroke-width="0.9"/>
<path d="M544.30 348.20V307.50H556.10V348.20" fill="#fff" stroke="#1a1a1a" stroke-width="0.9"/>
<path d="M580.10 348.20V318.20H591.90V348.20" fill="#fff" stroke="#1a1a1a" stroke-width="0.9"/>
<line x1="514.10" y1="320.70" x2="514.10" y2="309.50" stroke="#1a1a1a" stroke-width="0.8"/>
<line x1="510.90" y1="309.50" x2="517.30" y2="309.50" stroke="#1a1a1a" stroke-width="0.8"/>
<line x1="550.20" y1="307.50" x2="550.20" y2="300.00" stroke="#1a1a1a" stroke-width="0.8"/>
<line x1="547.00" y1="300.00" x2="553.40" y2="300.00" stroke="#1a1a1a" stroke-width="0.8"/>
<line x1="586.00" y1="318.20" x2="586.00" y2="312.00" stroke="#1a1a1a" stroke-width="0.8"/>
<line x1="582.80" y1="312.00" x2="589.20" y2="312.00" stroke="#1a1a1a" stroke-width="0.8"/>
<line x1="484.50" y1="233.80" x2="484.50" y2="348.70" stroke="#1a1a1a" stroke-width="1"/>
<line x1="484.00" y1="348.20" x2="597.60" y2="348.20" stroke="#1a1a1a" stroke-width="1"/>
<line x1="484.50" y1="234.30" x2="488.10" y2="234.30" stroke="#1a1a1a" stroke-width="1"/>
<text x="481.60" y="237.36" font-size="8.5" text-anchor="end" fill="#111">400</text>
<line x1="484.50" y1="262.70" x2="488.10" y2="262.70" stroke="#1a1a1a" stroke-width="1"/>
<text x="481.60" y="265.76" font-size="8.5" text-anchor="end" fill="#111">300</text>
<line x1="484.50" y1="291.20" x2="488.10" y2="291.20" stroke="#1a1a1a" stroke-width="1"/>
<text x="481.60" y="294.26" font-size="8.5" text-anchor="end" fill="#111">200</text>
<line x1="484.50" y1="319.70" x2="488.10" y2="319.70" stroke="#1a1a1a" stroke-width="1"/>
<text x="481.60" y="322.76" font-size="8.5" text-anchor="end" fill="#111">100</text>
<line x1="484.50" y1="348.20" x2="488.10" y2="348.20" stroke="#1a1a1a" stroke-width="1"/>
<text x="481.60" y="351.26" font-size="8.5" text-anchor="end" fill="#111">0</text>
<circle cx="491.60" cy="347.30" r="1.85" fill="#fff" fill-opacity="0.0" stroke="#0bb10b" stroke-width="0.85"/>
<circle cx="492.70" cy="347.70" r="1.85" fill="#fff" fill-opacity="0.0" stroke="#0bb10b" stroke-width="0.85"/>
<circle cx="493.80" cy="347.30" r="1.85" fill="#fff" fill-opacity="0.0" stroke="#0bb10b" stroke-width="0.85"/>
<circle cx="494.90" cy="347.70" r="1.85" fill="#fff" fill-opacity="0.0" stroke="#0bb10b" stroke-width="0.85"/>
<circle cx="496.00" cy="347.30" r="1.85" fill="#fff" fill-opacity="0.0" stroke="#0bb10b" stroke-width="0.85"/>
<circle cx="497.10" cy="347.70" r="1.85" fill="#fff" fill-opacity="0.0" stroke="#0bb10b" stroke-width="0.85"/>
<circle cx="498.20" cy="347.30" r="1.85" fill="#fff" fill-opacity="0.0" stroke="#0bb10b" stroke-width="0.85"/>
<circle cx="499.30" cy="347.70" r="1.85" fill="#fff" fill-opacity="0.0" stroke="#0bb10b" stroke-width="0.85"/>
<circle cx="500.40" cy="347.30" r="1.85" fill="#fff" fill-opacity="0.0" stroke="#0bb10b" stroke-width="0.85"/>
<circle cx="501.50" cy="347.70" r="1.85" fill="#fff" fill-opacity="0.0" stroke="#0bb10b" stroke-width="0.85"/>
<circle cx="514.10" cy="254.50" r="2.00" fill="#0bb10b"/>
<circle cx="514.10" cy="317.00" r="2.00" fill="#0bb10b"/>
<circle cx="509.60" cy="332.50" r="2.00" fill="#0bb10b"/>
<circle cx="512.60" cy="333.00" r="2.00" fill="#0bb10b"/>
<circle cx="515.20" cy="335.70" r="2.00" fill="#0bb10b"/>
<circle cx="518.00" cy="334.50" r="2.00" fill="#0bb10b"/>
<circle cx="510.00" cy="337.50" r="2.00" fill="#0bb10b"/>
<circle cx="528.10" cy="348.10" r="1.85" fill="#fff" fill-opacity="0.0" stroke="#000000" stroke-width="0.85"/>
<circle cx="529.90" cy="348.10" r="1.85" fill="#fff" fill-opacity="0.0" stroke="#000000" stroke-width="0.85"/>
<circle cx="531.70" cy="348.10" r="1.85" fill="#fff" fill-opacity="0.0" stroke="#000000" stroke-width="0.85"/>
<circle cx="533.50" cy="348.10" r="1.85" fill="#fff" fill-opacity="0.0" stroke="#000000" stroke-width="0.85"/>
<circle cx="535.30" cy="348.10" r="1.85" fill="#fff" fill-opacity="0.0" stroke="#000000" stroke-width="0.85"/>
<circle cx="536.80" cy="348.10" r="1.85" fill="#fff" fill-opacity="0.0" stroke="#000000" stroke-width="0.85"/>
<circle cx="550.10" cy="273.00" r="2.00" fill="#000000"/>
<circle cx="554.30" cy="298.00" r="2.00" fill="#000000"/>
<circle cx="545.60" cy="301.20" r="2.00" fill="#000000"/>
<circle cx="554.30" cy="309.50" r="2.00" fill="#000000"/>
<circle cx="545.60" cy="313.00" r="2.00" fill="#000000"/>
<circle cx="550.10" cy="323.00" r="2.00" fill="#000000"/>
<circle cx="550.10" cy="333.70" r="2.00" fill="#000000"/>
<circle cx="564.30" cy="348.10" r="1.85" fill="#fff" fill-opacity="0.0" stroke="#808080" stroke-width="0.85"/>
<circle cx="566.30" cy="348.10" r="1.85" fill="#fff" fill-opacity="0.0" stroke="#808080" stroke-width="0.85"/>
<circle cx="568.30" cy="348.10" r="1.85" fill="#fff" fill-opacity="0.0" stroke="#808080" stroke-width="0.85"/>
<circle cx="570.30" cy="348.10" r="1.85" fill="#fff" fill-opacity="0.0" stroke="#808080" stroke-width="0.85"/>
<circle cx="572.20" cy="348.10" r="1.85" fill="#fff" fill-opacity="0.0" stroke="#808080" stroke-width="0.85"/>
<circle cx="581.80" cy="297.50" r="2.00" fill="#808080"/>
<circle cx="590.10" cy="298.70" r="2.00" fill="#808080"/>
<circle cx="585.80" cy="308.00" r="2.00" fill="#808080"/>
<circle cx="581.80" cy="328.00" r="2.00" fill="#808080"/>
<circle cx="590.10" cy="327.50" r="2.00" fill="#808080"/>
<circle cx="585.80" cy="331.20" r="2.00" fill="#808080"/>
<circle cx="585.80" cy="336.70" r="2.00" fill="#808080"/>
<text x="496.30" y="359.00" font-size="8" text-anchor="middle" fill="#111">-</text>
<text x="514.10" y="359.00" font-size="8" text-anchor="middle" fill="#111">+</text>
<text x="532.20" y="359.00" font-size="8" text-anchor="middle" fill="#111">-</text>
<text x="550.20" y="359.00" font-size="8" text-anchor="middle" fill="#111">+</text>
<text x="568.20" y="359.00" font-size="8" text-anchor="middle" fill="#111">-</text>
<text x="586.00" y="359.00" font-size="8" text-anchor="middle" fill="#111">+</text>
<line x1="490.00" y1="363.60" x2="520.40" y2="363.60" stroke="#444" stroke-width="0.9"/>
<text x="505.20" y="373.20" font-size="8.2" text-anchor="middle" fill="#111">Sucrose</text>
<line x1="525.90" y1="363.60" x2="556.50" y2="363.60" stroke="#444" stroke-width="0.9"/>
<text x="541.20" y="373.20" font-size="8.2" text-anchor="middle" fill="#111">Glucose</text>
<line x1="561.90" y1="363.60" x2="592.30" y2="363.60" stroke="#444" stroke-width="0.9"/>
<text x="577.10" y="373.20" font-size="8.2" text-anchor="middle" fill="#111">Fructose</text>
<text x="597.70" y="359.60" font-size="8.7" text-anchor="start" fill="#111" font-style="italic">S. salivarius</text>
<text x="452.9" y="291.6" font-size="8.0" text-anchor="middle" fill="#111" transform="rotate(-90 452.9 291.6)">Faecal <tspan font-style="italic">B. thetaiotaomicron</tspan></text>
<text x="464.2" y="291.4" font-size="8.05" text-anchor="middle" fill="#111" transform="rotate(-90 464.2 291.4)">(×10<tspan font-size="5.8" dy="-3.0">3</tspan><tspan dy="3.0"> copies/ng DNA)</tspan></text>
<path d="M495.90 236.20V234.30H514.40V236.20" fill="none" stroke="#333" stroke-width="0.6"/>
<text x="494.25" y="231.00" font-size="5.1" fill="#000" textLength="21.8" lengthAdjust="spacingAndGlyphs"><tspan font-style="italic">P</tspan> = 0.0006</text>
<path d="M531.80 236.20V234.30H550.50V236.20" fill="none" stroke="#333" stroke-width="0.6"/>
<text x="530.25" y="231.00" font-size="5.1" fill="#000" textLength="21.8" lengthAdjust="spacingAndGlyphs"><tspan font-style="italic">P</tspan> = 0.0025</text>
<path d="M567.80 236.20V234.30H586.20V236.20" fill="none" stroke="#333" stroke-width="0.6"/>
<text x="566.10" y="231.00" font-size="5.1" fill="#000" textLength="21.8" lengthAdjust="spacingAndGlyphs"><tspan font-style="italic">P</tspan> = 0.0025</text>
<path d="M22.80 525.94L32.20 517.35L41.60 509.32L51.00 501.88L60.40 495.00L69.80 489.27L79.20 484.69L88.60 479.53L98.00 472.65" fill="none" stroke="#808080" stroke-width="1.05"/>
<line x1="22.80" y1="523.10" x2="22.80" y2="528.78" stroke="#808080" stroke-width="0.8"/>
<line x1="20.60" y1="523.10" x2="25.00" y2="523.10" stroke="#808080" stroke-width="0.8"/>
<line x1="20.60" y1="528.78" x2="25.00" y2="528.78" stroke="#808080" stroke-width="0.8"/>
<line x1="32.20" y1="514.20" x2="32.20" y2="520.49" stroke="#808080" stroke-width="0.8"/>
<line x1="30.00" y1="514.20" x2="34.40" y2="514.20" stroke="#808080" stroke-width="0.8"/>
<line x1="30.00" y1="520.49" x2="34.40" y2="520.49" stroke="#808080" stroke-width="0.8"/>
<line x1="41.60" y1="505.87" x2="41.60" y2="512.78" stroke="#808080" stroke-width="0.8"/>
<line x1="39.40" y1="505.87" x2="43.80" y2="505.87" stroke="#808080" stroke-width="0.8"/>
<line x1="39.40" y1="512.78" x2="43.80" y2="512.78" stroke="#808080" stroke-width="0.8"/>
<line x1="51.00" y1="498.11" x2="51.00" y2="505.64" stroke="#808080" stroke-width="0.8"/>
<line x1="48.80" y1="498.11" x2="53.20" y2="498.11" stroke="#808080" stroke-width="0.8"/>
<line x1="48.80" y1="505.64" x2="53.20" y2="505.64" stroke="#808080" stroke-width="0.8"/>
<line x1="60.40" y1="490.92" x2="60.40" y2="499.07" stroke="#808080" stroke-width="0.8"/>
<line x1="58.20" y1="490.92" x2="62.60" y2="490.92" stroke="#808080" stroke-width="0.8"/>
<line x1="58.20" y1="499.07" x2="62.60" y2="499.07" stroke="#808080" stroke-width="0.8"/>
<line x1="69.80" y1="484.89" x2="69.80" y2="493.65" stroke="#808080" stroke-width="0.8"/>
<line x1="67.60" y1="484.89" x2="72.00" y2="484.89" stroke="#808080" stroke-width="0.8"/>
<line x1="67.60" y1="493.65" x2="72.00" y2="493.65" stroke="#808080" stroke-width="0.8"/>
<line x1="79.20" y1="479.99" x2="79.20" y2="489.38" stroke="#808080" stroke-width="0.8"/>
<line x1="77.00" y1="479.99" x2="81.40" y2="479.99" stroke="#808080" stroke-width="0.8"/>
<line x1="77.00" y1="489.38" x2="81.40" y2="489.38" stroke="#808080" stroke-width="0.8"/>
<line x1="88.60" y1="474.53" x2="88.60" y2="484.53" stroke="#808080" stroke-width="0.8"/>
<line x1="86.40" y1="474.53" x2="90.80" y2="474.53" stroke="#808080" stroke-width="0.8"/>
<line x1="86.40" y1="484.53" x2="90.80" y2="484.53" stroke="#808080" stroke-width="0.8"/>
<line x1="98.00" y1="467.34" x2="98.00" y2="477.96" stroke="#808080" stroke-width="0.8"/>
<line x1="95.80" y1="467.34" x2="100.20" y2="467.34" stroke="#808080" stroke-width="0.8"/>
<line x1="95.80" y1="477.96" x2="100.20" y2="477.96" stroke="#808080" stroke-width="0.8"/>
<circle cx="22.80" cy="525.94" r="2.2" fill="#808080"/>
<circle cx="32.20" cy="517.35" r="2.2" fill="#808080"/>
<circle cx="41.60" cy="509.32" r="2.2" fill="#808080"/>
<circle cx="51.00" cy="501.88" r="2.2" fill="#808080"/>
<circle cx="60.40" cy="495.00" r="2.2" fill="#808080"/>
<circle cx="69.80" cy="489.27" r="2.2" fill="#808080"/>
<circle cx="79.20" cy="484.69" r="2.2" fill="#808080"/>
<circle cx="88.60" cy="479.53" r="2.2" fill="#808080"/>
<circle cx="98.00" cy="472.65" r="2.2" fill="#808080"/>
<path d="M22.80 525.37L32.20 516.20L41.60 507.61L51.00 500.73L60.40 494.43L69.80 486.40L79.20 478.96L88.60 472.65L98.00 467.50" fill="none" stroke="#808080" stroke-width="1.05"/>
<line x1="22.80" y1="522.22" x2="22.80" y2="528.52" stroke="#808080" stroke-width="0.8"/>
<line x1="20.60" y1="522.22" x2="25.00" y2="522.22" stroke="#808080" stroke-width="0.8"/>
<line x1="20.60" y1="528.52" x2="25.00" y2="528.52" stroke="#808080" stroke-width="0.8"/>
<line x1="32.20" y1="512.70" x2="32.20" y2="519.70" stroke="#808080" stroke-width="0.8"/>
<line x1="30.00" y1="512.70" x2="34.40" y2="512.70" stroke="#808080" stroke-width="0.8"/>
<line x1="30.00" y1="519.70" x2="34.40" y2="519.70" stroke="#808080" stroke-width="0.8"/>
<line x1="41.60" y1="503.77" x2="41.60" y2="511.44" stroke="#808080" stroke-width="0.8"/>
<line x1="39.40" y1="503.77" x2="43.80" y2="503.77" stroke="#808080" stroke-width="0.8"/>
<line x1="39.40" y1="511.44" x2="43.80" y2="511.44" stroke="#808080" stroke-width="0.8"/>
<line x1="51.00" y1="496.55" x2="51.00" y2="504.91" stroke="#808080" stroke-width="0.8"/>
<line x1="48.80" y1="496.55" x2="53.20" y2="496.55" stroke="#808080" stroke-width="0.8"/>
<line x1="48.80" y1="504.91" x2="53.20" y2="504.91" stroke="#808080" stroke-width="0.8"/>
<line x1="60.40" y1="489.90" x2="60.40" y2="498.95" stroke="#808080" stroke-width="0.8"/>
<line x1="58.20" y1="489.90" x2="62.60" y2="489.90" stroke="#808080" stroke-width="0.8"/>
<line x1="58.20" y1="498.95" x2="62.60" y2="498.95" stroke="#808080" stroke-width="0.8"/>
<line x1="69.80" y1="481.53" x2="69.80" y2="491.27" stroke="#808080" stroke-width="0.8"/>
<line x1="67.60" y1="481.53" x2="72.00" y2="481.53" stroke="#808080" stroke-width="0.8"/>
<line x1="67.60" y1="491.27" x2="72.00" y2="491.27" stroke="#808080" stroke-width="0.8"/>
<line x1="79.20" y1="473.74" x2="79.20" y2="484.17" stroke="#808080" stroke-width="0.8"/>
<line x1="77.00" y1="473.74" x2="81.40" y2="473.74" stroke="#808080" stroke-width="0.8"/>
<line x1="77.00" y1="484.17" x2="81.40" y2="484.17" stroke="#808080" stroke-width="0.8"/>
<line x1="88.60" y1="467.09" x2="88.60" y2="478.21" stroke="#808080" stroke-width="0.8"/>
<line x1="86.40" y1="467.09" x2="90.80" y2="467.09" stroke="#808080" stroke-width="0.8"/>
<line x1="86.40" y1="478.21" x2="90.80" y2="478.21" stroke="#808080" stroke-width="0.8"/>
<line x1="98.00" y1="461.59" x2="98.00" y2="473.40" stroke="#808080" stroke-width="0.8"/>
<line x1="95.80" y1="461.59" x2="100.20" y2="461.59" stroke="#808080" stroke-width="0.8"/>
<line x1="95.80" y1="473.40" x2="100.20" y2="473.40" stroke="#808080" stroke-width="0.8"/>
<circle cx="22.80" cy="525.37" r="1.85" fill="#fff" stroke="#808080" stroke-width="0.85"/>
<circle cx="32.20" cy="516.20" r="1.85" fill="#fff" stroke="#808080" stroke-width="0.85"/>
<circle cx="41.60" cy="507.61" r="1.85" fill="#fff" stroke="#808080" stroke-width="0.85"/>
<circle cx="51.00" cy="500.73" r="1.85" fill="#fff" stroke="#808080" stroke-width="0.85"/>
<circle cx="60.40" cy="494.43" r="1.85" fill="#fff" stroke="#808080" stroke-width="0.85"/>
<circle cx="69.80" cy="486.40" r="1.85" fill="#fff" stroke="#808080" stroke-width="0.85"/>
<circle cx="79.20" cy="478.96" r="1.85" fill="#fff" stroke="#808080" stroke-width="0.85"/>
<circle cx="88.60" cy="472.65" r="1.85" fill="#fff" stroke="#808080" stroke-width="0.85"/>
<circle cx="98.00" cy="467.50" r="1.85" fill="#fff" stroke="#808080" stroke-width="0.85"/>
<path d="M22.80 526.51L32.20 518.49L41.60 512.19L51.00 504.74L60.40 497.86L69.80 490.99L79.20 486.40L88.60 480.67L98.00 474.37" fill="none" stroke="#000000" stroke-width="1.05"/>
<line x1="22.80" y1="523.68" x2="22.80" y2="529.35" stroke="#000000" stroke-width="0.8"/>
<line x1="20.60" y1="523.68" x2="25.00" y2="523.68" stroke="#000000" stroke-width="0.8"/>
<line x1="20.60" y1="529.35" x2="25.00" y2="529.35" stroke="#000000" stroke-width="0.8"/>
<line x1="32.20" y1="515.35" x2="32.20" y2="521.64" stroke="#000000" stroke-width="0.8"/>
<line x1="30.00" y1="515.35" x2="34.40" y2="515.35" stroke="#000000" stroke-width="0.8"/>
<line x1="30.00" y1="521.64" x2="34.40" y2="521.64" stroke="#000000" stroke-width="0.8"/>
<line x1="41.60" y1="508.73" x2="41.60" y2="515.64" stroke="#000000" stroke-width="0.8"/>
<line x1="39.40" y1="508.73" x2="43.80" y2="508.73" stroke="#000000" stroke-width="0.8"/>
<line x1="39.40" y1="515.64" x2="43.80" y2="515.64" stroke="#000000" stroke-width="0.8"/>
<line x1="51.00" y1="500.98" x2="51.00" y2="508.50" stroke="#000000" stroke-width="0.8"/>
<line x1="48.80" y1="500.98" x2="53.20" y2="500.98" stroke="#000000" stroke-width="0.8"/>
<line x1="48.80" y1="508.50" x2="53.20" y2="508.50" stroke="#000000" stroke-width="0.8"/>
<line x1="60.40" y1="493.79" x2="60.40" y2="501.94" stroke="#000000" stroke-width="0.8"/>
<line x1="58.20" y1="493.79" x2="62.60" y2="493.79" stroke="#000000" stroke-width="0.8"/>
<line x1="58.20" y1="501.94" x2="62.60" y2="501.94" stroke="#000000" stroke-width="0.8"/>
<line x1="69.80" y1="486.60" x2="69.80" y2="495.37" stroke="#000000" stroke-width="0.8"/>
<line x1="67.60" y1="486.60" x2="72.00" y2="486.60" stroke="#000000" stroke-width="0.8"/>
<line x1="67.60" y1="495.37" x2="72.00" y2="495.37" stroke="#000000" stroke-width="0.8"/>
<line x1="79.20" y1="481.71" x2="79.20" y2="491.10" stroke="#000000" stroke-width="0.8"/>
<line x1="77.00" y1="481.71" x2="81.40" y2="481.71" stroke="#000000" stroke-width="0.8"/>
<line x1="77.00" y1="491.10" x2="81.40" y2="491.10" stroke="#000000" stroke-width="0.8"/>
<line x1="88.60" y1="475.67" x2="88.60" y2="485.68" stroke="#000000" stroke-width="0.8"/>
<line x1="86.40" y1="475.67" x2="90.80" y2="475.67" stroke="#000000" stroke-width="0.8"/>
<line x1="86.40" y1="485.68" x2="90.80" y2="485.68" stroke="#000000" stroke-width="0.8"/>
<line x1="98.00" y1="469.06" x2="98.00" y2="479.68" stroke="#000000" stroke-width="0.8"/>
<line x1="95.80" y1="469.06" x2="100.20" y2="469.06" stroke="#000000" stroke-width="0.8"/>
<line x1="95.80" y1="479.68" x2="100.20" y2="479.68" stroke="#000000" stroke-width="0.8"/>
<circle cx="22.80" cy="526.51" r="2.2" fill="#000000"/>
<circle cx="32.20" cy="518.49" r="2.2" fill="#000000"/>
<circle cx="41.60" cy="512.19" r="2.2" fill="#000000"/>
<circle cx="51.00" cy="504.74" r="2.2" fill="#000000"/>
<circle cx="60.40" cy="497.86" r="2.2" fill="#000000"/>
<circle cx="69.80" cy="490.99" r="2.2" fill="#000000"/>
<circle cx="79.20" cy="486.40" r="2.2" fill="#000000"/>
<circle cx="88.60" cy="480.67" r="2.2" fill="#000000"/>
<circle cx="98.00" cy="474.37" r="2.2" fill="#000000"/>
<path d="M22.80 525.94L32.20 516.77L41.60 508.18L51.00 501.30L60.40 493.85L69.80 484.69L79.20 477.24L88.60 471.51L98.00 465.78" fill="none" stroke="#000000" stroke-width="1.05"/>
<line x1="22.80" y1="522.16" x2="22.80" y2="529.72" stroke="#000000" stroke-width="0.8"/>
<line x1="20.60" y1="522.16" x2="25.00" y2="522.16" stroke="#000000" stroke-width="0.8"/>
<line x1="20.60" y1="529.72" x2="25.00" y2="529.72" stroke="#000000" stroke-width="0.8"/>
<line x1="32.20" y1="512.58" x2="32.20" y2="520.97" stroke="#000000" stroke-width="0.8"/>
<line x1="30.00" y1="512.58" x2="34.40" y2="512.58" stroke="#000000" stroke-width="0.8"/>
<line x1="30.00" y1="520.97" x2="34.40" y2="520.97" stroke="#000000" stroke-width="0.8"/>
<line x1="41.60" y1="503.57" x2="41.60" y2="512.78" stroke="#000000" stroke-width="0.8"/>
<line x1="39.40" y1="503.57" x2="43.80" y2="503.57" stroke="#000000" stroke-width="0.8"/>
<line x1="39.40" y1="512.78" x2="43.80" y2="512.78" stroke="#000000" stroke-width="0.8"/>
<line x1="51.00" y1="496.28" x2="51.00" y2="506.32" stroke="#000000" stroke-width="0.8"/>
<line x1="48.80" y1="496.28" x2="53.20" y2="496.28" stroke="#000000" stroke-width="0.8"/>
<line x1="48.80" y1="506.32" x2="53.20" y2="506.32" stroke="#000000" stroke-width="0.8"/>
<line x1="60.40" y1="488.42" x2="60.40" y2="499.29" stroke="#000000" stroke-width="0.8"/>
<line x1="58.20" y1="488.42" x2="62.60" y2="488.42" stroke="#000000" stroke-width="0.8"/>
<line x1="58.20" y1="499.29" x2="62.60" y2="499.29" stroke="#000000" stroke-width="0.8"/>
<line x1="69.80" y1="478.84" x2="69.80" y2="490.53" stroke="#000000" stroke-width="0.8"/>
<line x1="67.60" y1="478.84" x2="72.00" y2="478.84" stroke="#000000" stroke-width="0.8"/>
<line x1="67.60" y1="490.53" x2="72.00" y2="490.53" stroke="#000000" stroke-width="0.8"/>
<line x1="79.20" y1="470.98" x2="79.20" y2="483.49" stroke="#000000" stroke-width="0.8"/>
<line x1="77.00" y1="470.98" x2="81.40" y2="470.98" stroke="#000000" stroke-width="0.8"/>
<line x1="77.00" y1="483.49" x2="81.40" y2="483.49" stroke="#000000" stroke-width="0.8"/>
<line x1="88.60" y1="464.84" x2="88.60" y2="478.18" stroke="#000000" stroke-width="0.8"/>
<line x1="86.40" y1="464.84" x2="90.80" y2="464.84" stroke="#000000" stroke-width="0.8"/>
<line x1="86.40" y1="478.18" x2="90.80" y2="478.18" stroke="#000000" stroke-width="0.8"/>
<line x1="98.00" y1="458.69" x2="98.00" y2="472.86" stroke="#000000" stroke-width="0.8"/>
<line x1="95.80" y1="458.69" x2="100.20" y2="458.69" stroke="#000000" stroke-width="0.8"/>
<line x1="95.80" y1="472.86" x2="100.20" y2="472.86" stroke="#000000" stroke-width="0.8"/>
<circle cx="22.80" cy="525.94" r="1.85" fill="#fff" stroke="#000000" stroke-width="0.85"/>
<circle cx="32.20" cy="516.77" r="1.85" fill="#fff" stroke="#000000" stroke-width="0.85"/>
<circle cx="41.60" cy="508.18" r="1.85" fill="#fff" stroke="#000000" stroke-width="0.85"/>
<circle cx="51.00" cy="501.30" r="1.85" fill="#fff" stroke="#000000" stroke-width="0.85"/>
<circle cx="60.40" cy="493.85" r="1.85" fill="#fff" stroke="#000000" stroke-width="0.85"/>
<circle cx="69.80" cy="484.69" r="1.85" fill="#fff" stroke="#000000" stroke-width="0.85"/>
<circle cx="79.20" cy="477.24" r="1.85" fill="#fff" stroke="#000000" stroke-width="0.85"/>
<circle cx="88.60" cy="471.51" r="1.85" fill="#fff" stroke="#000000" stroke-width="0.85"/>
<circle cx="98.00" cy="465.78" r="1.85" fill="#fff" stroke="#000000" stroke-width="0.85"/>
<path d="M22.80 525.37L32.20 515.63L41.60 506.46L51.00 499.58L60.40 493.28L69.80 489.84L79.20 486.69L88.60 481.25L98.00 473.23" fill="none" stroke="#0bb10b" stroke-width="1.05"/>
<line x1="22.80" y1="522.85" x2="22.80" y2="527.89" stroke="#0bb10b" stroke-width="0.8"/>
<line x1="20.60" y1="522.85" x2="25.00" y2="522.85" stroke="#0bb10b" stroke-width="0.8"/>
<line x1="20.60" y1="527.89" x2="25.00" y2="527.89" stroke="#0bb10b" stroke-width="0.8"/>
<line x1="32.20" y1="512.83" x2="32.20" y2="518.42" stroke="#0bb10b" stroke-width="0.8"/>
<line x1="30.00" y1="512.83" x2="34.40" y2="512.83" stroke="#0bb10b" stroke-width="0.8"/>
<line x1="30.00" y1="518.42" x2="34.40" y2="518.42" stroke="#0bb10b" stroke-width="0.8"/>
<line x1="41.60" y1="503.39" x2="41.60" y2="509.53" stroke="#0bb10b" stroke-width="0.8"/>
<line x1="39.40" y1="503.39" x2="43.80" y2="503.39" stroke="#0bb10b" stroke-width="0.8"/>
<line x1="39.40" y1="509.53" x2="43.80" y2="509.53" stroke="#0bb10b" stroke-width="0.8"/>
<line x1="51.00" y1="496.24" x2="51.00" y2="502.93" stroke="#0bb10b" stroke-width="0.8"/>
<line x1="48.80" y1="496.24" x2="53.20" y2="496.24" stroke="#0bb10b" stroke-width="0.8"/>
<line x1="48.80" y1="502.93" x2="53.20" y2="502.93" stroke="#0bb10b" stroke-width="0.8"/>
<line x1="60.40" y1="489.66" x2="60.40" y2="496.90" stroke="#0bb10b" stroke-width="0.8"/>
<line x1="58.20" y1="489.66" x2="62.60" y2="489.66" stroke="#0bb10b" stroke-width="0.8"/>
<line x1="58.20" y1="496.90" x2="62.60" y2="496.90" stroke="#0bb10b" stroke-width="0.8"/>
<line x1="69.80" y1="485.95" x2="69.80" y2="493.74" stroke="#0bb10b" stroke-width="0.8"/>
<line x1="67.60" y1="485.95" x2="72.00" y2="485.95" stroke="#0bb10b" stroke-width="0.8"/>
<line x1="67.60" y1="493.74" x2="72.00" y2="493.74" stroke="#0bb10b" stroke-width="0.8"/>
<line x1="79.20" y1="482.52" x2="79.20" y2="490.86" stroke="#0bb10b" stroke-width="0.8"/>
<line x1="77.00" y1="482.52" x2="81.40" y2="482.52" stroke="#0bb10b" stroke-width="0.8"/>
<line x1="77.00" y1="490.86" x2="81.40" y2="490.86" stroke="#0bb10b" stroke-width="0.8"/>
<line x1="88.60" y1="476.80" x2="88.60" y2="485.69" stroke="#0bb10b" stroke-width="0.8"/>
<line x1="86.40" y1="476.80" x2="90.80" y2="476.80" stroke="#0bb10b" stroke-width="0.8"/>
<line x1="86.40" y1="485.69" x2="90.80" y2="485.69" stroke="#0bb10b" stroke-width="0.8"/>
<line x1="98.00" y1="468.50" x2="98.00" y2="477.95" stroke="#0bb10b" stroke-width="0.8"/>
<line x1="95.80" y1="468.50" x2="100.20" y2="468.50" stroke="#0bb10b" stroke-width="0.8"/>
<line x1="95.80" y1="477.95" x2="100.20" y2="477.95" stroke="#0bb10b" stroke-width="0.8"/>
<circle cx="22.80" cy="525.37" r="2.2" fill="#0bb10b"/>
<circle cx="32.20" cy="515.63" r="2.2" fill="#0bb10b"/>
<circle cx="41.60" cy="506.46" r="2.2" fill="#0bb10b"/>
<circle cx="51.00" cy="499.58" r="2.2" fill="#0bb10b"/>
<circle cx="60.40" cy="493.28" r="2.2" fill="#0bb10b"/>
<circle cx="69.80" cy="489.84" r="2.2" fill="#0bb10b"/>
<circle cx="79.20" cy="486.69" r="2.2" fill="#0bb10b"/>
<circle cx="88.60" cy="481.25" r="2.2" fill="#0bb10b"/>
<circle cx="98.00" cy="473.23" r="2.2" fill="#0bb10b"/>
<path d="M22.80 524.80L32.20 508.75L41.60 495.29L51.00 482.97L60.40 475.52L69.80 470.36L79.20 464.63L88.60 457.18L98.00 451.45" fill="none" stroke="#0bb10b" stroke-width="1.05"/>
<line x1="22.80" y1="521.64" x2="22.80" y2="527.95" stroke="#0bb10b" stroke-width="0.8"/>
<line x1="20.60" y1="521.64" x2="25.00" y2="521.64" stroke="#0bb10b" stroke-width="0.8"/>
<line x1="20.60" y1="527.95" x2="25.00" y2="527.95" stroke="#0bb10b" stroke-width="0.8"/>
<line x1="32.20" y1="505.26" x2="32.20" y2="512.25" stroke="#0bb10b" stroke-width="0.8"/>
<line x1="30.00" y1="505.26" x2="34.40" y2="505.26" stroke="#0bb10b" stroke-width="0.8"/>
<line x1="30.00" y1="512.25" x2="34.40" y2="512.25" stroke="#0bb10b" stroke-width="0.8"/>
<line x1="41.60" y1="491.45" x2="41.60" y2="499.12" stroke="#0bb10b" stroke-width="0.8"/>
<line x1="39.40" y1="491.45" x2="43.80" y2="491.45" stroke="#0bb10b" stroke-width="0.8"/>
<line x1="39.40" y1="499.12" x2="43.80" y2="499.12" stroke="#0bb10b" stroke-width="0.8"/>
<line x1="51.00" y1="478.78" x2="51.00" y2="487.15" stroke="#0bb10b" stroke-width="0.8"/>
<line x1="48.80" y1="478.78" x2="53.20" y2="478.78" stroke="#0bb10b" stroke-width="0.8"/>
<line x1="48.80" y1="487.15" x2="53.20" y2="487.15" stroke="#0bb10b" stroke-width="0.8"/>
<line x1="60.40" y1="470.99" x2="60.40" y2="480.04" stroke="#0bb10b" stroke-width="0.8"/>
<line x1="58.20" y1="470.99" x2="62.60" y2="470.99" stroke="#0bb10b" stroke-width="0.8"/>
<line x1="58.20" y1="480.04" x2="62.60" y2="480.04" stroke="#0bb10b" stroke-width="0.8"/>
<line x1="69.80" y1="465.49" x2="69.80" y2="475.23" stroke="#0bb10b" stroke-width="0.8"/>
<line x1="67.60" y1="465.49" x2="72.00" y2="465.49" stroke="#0bb10b" stroke-width="0.8"/>
<line x1="67.60" y1="475.23" x2="72.00" y2="475.23" stroke="#0bb10b" stroke-width="0.8"/>
<line x1="79.20" y1="459.42" x2="79.20" y2="469.84" stroke="#0bb10b" stroke-width="0.8"/>
<line x1="77.00" y1="459.42" x2="81.40" y2="459.42" stroke="#0bb10b" stroke-width="0.8"/>
<line x1="77.00" y1="469.84" x2="81.40" y2="469.84" stroke="#0bb10b" stroke-width="0.8"/>
<line x1="88.60" y1="451.62" x2="88.60" y2="462.74" stroke="#0bb10b" stroke-width="0.8"/>
<line x1="86.40" y1="451.62" x2="90.80" y2="451.62" stroke="#0bb10b" stroke-width="0.8"/>
<line x1="86.40" y1="462.74" x2="90.80" y2="462.74" stroke="#0bb10b" stroke-width="0.8"/>
<line x1="98.00" y1="445.55" x2="98.00" y2="457.35" stroke="#0bb10b" stroke-width="0.8"/>
<line x1="95.80" y1="445.55" x2="100.20" y2="445.55" stroke="#0bb10b" stroke-width="0.8"/>
<line x1="95.80" y1="457.35" x2="100.20" y2="457.35" stroke="#0bb10b" stroke-width="0.8"/>
<circle cx="22.80" cy="524.80" r="1.85" fill="#fff" stroke="#0bb10b" stroke-width="0.85"/>
<circle cx="32.20" cy="508.75" r="1.85" fill="#fff" stroke="#0bb10b" stroke-width="0.85"/>
<circle cx="41.60" cy="495.29" r="1.85" fill="#fff" stroke="#0bb10b" stroke-width="0.85"/>
<circle cx="51.00" cy="482.97" r="1.85" fill="#fff" stroke="#0bb10b" stroke-width="0.85"/>
<circle cx="60.40" cy="475.52" r="1.85" fill="#fff" stroke="#0bb10b" stroke-width="0.85"/>
<circle cx="69.80" cy="470.36" r="1.85" fill="#fff" stroke="#0bb10b" stroke-width="0.85"/>
<circle cx="79.20" cy="464.63" r="1.85" fill="#fff" stroke="#0bb10b" stroke-width="0.85"/>
<circle cx="88.60" cy="457.18" r="1.85" fill="#fff" stroke="#0bb10b" stroke-width="0.85"/>
<circle cx="98.00" cy="451.45" r="1.85" fill="#fff" stroke="#0bb10b" stroke-width="0.85"/>
<line x1="23.00" y1="429.80" x2="23.00" y2="533.30" stroke="#1a1a1a" stroke-width="1"/>
<line x1="23.00" y1="543.30" x2="23.00" y2="554.30" stroke="#1a1a1a" stroke-width="1"/>
<line x1="20.40" y1="533.30" x2="25.60" y2="533.30" stroke="#1a1a1a" stroke-width="1"/>
<line x1="20.40" y1="543.30" x2="25.60" y2="543.30" stroke="#1a1a1a" stroke-width="1"/>
<line x1="22.50" y1="553.80" x2="98.40" y2="553.80" stroke="#1a1a1a" stroke-width="1"/>
<line x1="23.00" y1="430.25" x2="26.60" y2="430.25" stroke="#1a1a1a" stroke-width="1"/>
<text x="19.50" y="433.25" font-size="8.4" text-anchor="end" fill="#111">45</text>
<line x1="23.00" y1="458.90" x2="26.60" y2="458.90" stroke="#1a1a1a" stroke-width="1"/>
<text x="19.50" y="461.90" font-size="8.4" text-anchor="end" fill="#111">40</text>
<line x1="23.00" y1="487.55" x2="26.60" y2="487.55" stroke="#1a1a1a" stroke-width="1"/>
<text x="19.50" y="490.55" font-size="8.4" text-anchor="end" fill="#111">35</text>
<line x1="23.00" y1="516.20" x2="26.60" y2="516.20" stroke="#1a1a1a" stroke-width="1"/>
<text x="19.50" y="519.20" font-size="8.4" text-anchor="end" fill="#111">30</text>
<text x="19.50" y="556.80" font-size="8.4" text-anchor="end" fill="#111">0</text>
<text x="22.80" y="564.40" font-size="8.4" text-anchor="middle" fill="#111">8</text>
<text x="41.60" y="564.40" font-size="8.4" text-anchor="middle" fill="#111">10</text>
<text x="60.40" y="564.40" font-size="8.4" text-anchor="middle" fill="#111">12</text>
<text x="79.20" y="564.40" font-size="8.4" text-anchor="middle" fill="#111">14</text>
<text x="98.00" y="564.40" font-size="8.4" text-anchor="middle" fill="#111">16</text>
<text x="60.40" y="577.60" font-size="8.7" text-anchor="middle" fill="#111">Weeks of age</text>
<text x="6.20" y="492.80" font-size="8.5" text-anchor="middle" fill="#111" transform="rotate(-90 6.20 492.80)">Body weight (g)</text>
<text x="88.30" y="447.00" font-size="4.5" text-anchor="middle" fill="#111">*</text>
<text x="97.70" y="441.60" font-size="4.5" text-anchor="middle" fill="#111">*</text>
<text x="79.20" y="508.00" font-size="5.9" text-anchor="middle" fill="#222" font-style="italic">S. salivarius</text>
<circle cx="66.2" cy="513.70" r="2.0" fill="#fff" stroke="#0bb10b" stroke-width="0.7"/>
<text x="72.00" y="515.60" font-size="5.6" text-anchor="middle" fill="#0bb10b">-</text>
<circle cx="66.2" cy="520.70" r="2.4" fill="#0bb10b"/>
<text x="72.00" y="522.60" font-size="5.6" text-anchor="middle" fill="#0bb10b">+</text>
<circle cx="66.2" cy="527.70" r="2.0" fill="#fff" stroke="#000000" stroke-width="0.7"/>
<text x="72.00" y="529.60" font-size="5.6" text-anchor="middle" fill="#000000">-</text>
<circle cx="66.2" cy="534.70" r="2.4" fill="#000000"/>
<text x="72.00" y="536.60" font-size="5.6" text-anchor="middle" fill="#000000">+</text>
<circle cx="66.2" cy="541.70" r="2.0" fill="#fff" stroke="#808080" stroke-width="0.7"/>
<text x="72.00" y="543.60" font-size="5.6" text-anchor="middle" fill="#808080">-</text>
<circle cx="66.2" cy="548.70" r="2.4" fill="#808080"/>
<text x="72.00" y="550.60" font-size="5.6" text-anchor="middle" fill="#808080">+</text>
<line x1="77.80" y1="511.70" x2="77.80" y2="523.00" stroke="#717d9e" stroke-width="0.8"/>
<text x="82.20" y="519.30" font-size="6.0" text-anchor="start" fill="#222">Sucrose</text>
<line x1="77.80" y1="525.00" x2="77.80" y2="537.00" stroke="#717d9e" stroke-width="0.8"/>
<text x="82.20" y="533.10" font-size="6.0" text-anchor="start" fill="#222">Glucose</text>
<line x1="77.80" y1="539.20" x2="77.80" y2="551.60" stroke="#717d9e" stroke-width="0.8"/>
<text x="82.20" y="547.00" font-size="6.0" text-anchor="start" fill="#222">Fructose</text>
<path d="M146.30 554.00V496.40H152.05V554.00" fill="#fff" stroke="#1a1a1a" stroke-width="1.0"/>
<path d="M152.05 554.00V512.40H157.80V554.00" fill="#fff" stroke="#1a1a1a" stroke-width="1.0"/>
<path d="M157.80 554.00V513.50H163.55V554.00" fill="#fff" stroke="#1a1a1a" stroke-width="1.0"/>
<path d="M163.55 554.00V519.00H169.30V554.00" fill="#fff" stroke="#1a1a1a" stroke-width="1.0"/>
<path d="M169.30 554.00V513.30H175.05V554.00" fill="#fff" stroke="#1a1a1a" stroke-width="1.0"/>
<path d="M175.05 554.00V515.50H180.80V554.00" fill="#fff" stroke="#1a1a1a" stroke-width="1.0"/>
<line x1="149.18" y1="496.40" x2="149.18" y2="493.60" stroke="#1a1a1a" stroke-width="0.8"/>
<line x1="147.68" y1="493.60" x2="150.68" y2="493.60" stroke="#1a1a1a" stroke-width="0.8"/>
<circle cx="148.80" cy="484.30" r="0.95" fill="#0bb10b"/>
<circle cx="148.80" cy="488.50" r="0.95" fill="#0bb10b"/>
<circle cx="148.80" cy="492.00" r="0.95" fill="#0bb10b"/>
<circle cx="148.80" cy="498.60" r="0.95" fill="#0bb10b"/>
<circle cx="147.50" cy="503.60" r="0.95" fill="#0bb10b"/>
<circle cx="148.80" cy="503.00" r="0.95" fill="#0bb10b"/>
<circle cx="150.10" cy="503.60" r="0.95" fill="#0bb10b"/>
<line x1="154.93" y1="512.40" x2="154.93" y2="506.50" stroke="#1a1a1a" stroke-width="0.8"/>
<line x1="153.43" y1="506.50" x2="156.43" y2="506.50" stroke="#1a1a1a" stroke-width="0.8"/>
<circle cx="153.20" cy="492.00" r="0.95" fill="#0bb10b"/>
<circle cx="155.80" cy="493.60" r="0.95" fill="#0bb10b"/>
<circle cx="154.50" cy="512.20" r="0.95" fill="#0bb10b"/>
<circle cx="154.50" cy="516.20" r="0.95" fill="#0bb10b"/>
<circle cx="154.50" cy="520.10" r="0.95" fill="#0bb10b"/>
<circle cx="153.20" cy="524.30" r="0.95" fill="#0bb10b"/>
<circle cx="155.80" cy="523.80" r="0.95" fill="#0bb10b"/>
<line x1="160.68" y1="513.50" x2="160.68" y2="508.30" stroke="#1a1a1a" stroke-width="0.8"/>
<line x1="159.18" y1="508.30" x2="162.18" y2="508.30" stroke="#1a1a1a" stroke-width="0.8"/>
<rect x="159.40" y="496.30" width="1.6" height="1.4" fill="#111"/>
<rect x="159.40" y="504.10" width="1.6" height="1.4" fill="#111"/>
<rect x="159.40" y="507.60" width="1.6" height="1.4" fill="#111"/>
<rect x="159.40" y="516.80" width="1.6" height="1.4" fill="#111"/>
<rect x="159.40" y="520.70" width="1.6" height="1.4" fill="#111"/>
<rect x="159.40" y="525.30" width="1.6" height="1.4" fill="#111"/>
<line x1="166.43" y1="519.00" x2="166.43" y2="514.40" stroke="#1a1a1a" stroke-width="0.8"/>
<line x1="164.93" y1="514.40" x2="167.93" y2="514.40" stroke="#1a1a1a" stroke-width="0.8"/>
<rect x="165.20" y="496.60" width="1.6" height="1.4" fill="#111"/>
<rect x="165.20" y="506.10" width="1.6" height="1.4" fill="#111"/>
<rect x="165.20" y="513.70" width="1.6" height="1.4" fill="#111"/>
<rect x="165.20" y="519.00" width="1.6" height="1.4" fill="#111"/>
<rect x="165.20" y="522.90" width="1.6" height="1.4" fill="#111"/>
<rect x="166.40" y="525.30" width="1.6" height="1.4" fill="#111"/>
<line x1="172.18" y1="513.30" x2="172.18" y2="508.50" stroke="#1a1a1a" stroke-width="0.8"/>
<line x1="170.68" y1="508.50" x2="173.68" y2="508.50" stroke="#1a1a1a" stroke-width="0.8"/>
<circle cx="170.30" cy="504.80" r="0.7" fill="#8f8f8f"/>
<circle cx="171.60" cy="506.00" r="0.7" fill="#8f8f8f"/>
<circle cx="173.20" cy="505.60" r="0.7" fill="#8f8f8f"/>
<circle cx="171.80" cy="521.40" r="0.7" fill="#8f8f8f"/>
<circle cx="171.80" cy="523.60" r="0.7" fill="#8f8f8f"/>
<circle cx="171.80" cy="525.40" r="0.7" fill="#8f8f8f"/>
<line x1="177.93" y1="515.50" x2="177.93" y2="512.60" stroke="#1a1a1a" stroke-width="0.8"/>
<line x1="176.43" y1="512.60" x2="179.43" y2="512.60" stroke="#1a1a1a" stroke-width="0.8"/>
<circle cx="176.00" cy="507.40" r="0.7" fill="#8f8f8f"/>
<circle cx="177.50" cy="508.70" r="0.7" fill="#8f8f8f"/>
<circle cx="179.00" cy="507.40" r="0.7" fill="#8f8f8f"/>
<circle cx="177.50" cy="517.00" r="0.7" fill="#8f8f8f"/>
<circle cx="177.50" cy="520.10" r="0.7" fill="#8f8f8f"/>
<circle cx="177.50" cy="522.70" r="0.7" fill="#8f8f8f"/>
<path d="M186.20 554.00V528.40H191.95V554.00" fill="#fff" stroke="#1a1a1a" stroke-width="1.0"/>
<path d="M191.95 554.00V536.50H197.70V554.00" fill="#fff" stroke="#1a1a1a" stroke-width="1.0"/>
<path d="M197.70 554.00V535.60H203.45V554.00" fill="#fff" stroke="#1a1a1a" stroke-width="1.0"/>
<path d="M203.45 554.00V536.50H209.20V554.00" fill="#fff" stroke="#1a1a1a" stroke-width="1.0"/>
<path d="M209.20 554.00V533.00H214.95V554.00" fill="#fff" stroke="#1a1a1a" stroke-width="1.0"/>
<path d="M214.95 554.00V534.10H220.70V554.00" fill="#fff" stroke="#1a1a1a" stroke-width="1.0"/>
<line x1="189.07" y1="528.40" x2="189.07" y2="526.40" stroke="#1a1a1a" stroke-width="0.8"/>
<line x1="187.57" y1="526.40" x2="190.57" y2="526.40" stroke="#1a1a1a" stroke-width="0.8"/>
<circle cx="188.80" cy="521.20" r="0.95" fill="#0bb10b"/>
<circle cx="188.80" cy="524.00" r="0.95" fill="#0bb10b"/>
<circle cx="187.50" cy="529.00" r="0.95" fill="#0bb10b"/>
<circle cx="188.80" cy="528.60" r="0.95" fill="#0bb10b"/>
<circle cx="190.10" cy="529.00" r="0.95" fill="#0bb10b"/>
<circle cx="187.50" cy="531.00" r="0.95" fill="#0bb10b"/>
<circle cx="190.10" cy="531.00" r="0.95" fill="#0bb10b"/>
<circle cx="188.80" cy="535.40" r="0.95" fill="#0bb10b"/>
<line x1="194.82" y1="536.50" x2="194.82" y2="534.30" stroke="#1a1a1a" stroke-width="0.8"/>
<line x1="193.32" y1="534.30" x2="196.32" y2="534.30" stroke="#1a1a1a" stroke-width="0.8"/>
<circle cx="194.50" cy="529.50" r="0.95" fill="#0bb10b"/>
<circle cx="194.50" cy="531.50" r="0.95" fill="#0bb10b"/>
<circle cx="194.50" cy="533.40" r="0.95" fill="#0bb10b"/>
<circle cx="193.20" cy="538.70" r="0.95" fill="#0bb10b"/>
<circle cx="195.80" cy="538.70" r="0.95" fill="#0bb10b"/>
<circle cx="194.50" cy="541.20" r="0.95" fill="#0bb10b"/>
<line x1="200.57" y1="535.60" x2="200.57" y2="529.30" stroke="#1a1a1a" stroke-width="0.8"/>
<line x1="199.07" y1="529.30" x2="202.07" y2="529.30" stroke="#1a1a1a" stroke-width="0.8"/>
<rect x="199.60" y="518.30" width="1.6" height="1.4" fill="#111"/>
<rect x="199.60" y="525.30" width="1.6" height="1.4" fill="#111"/>
<rect x="199.60" y="538.40" width="1.6" height="1.4" fill="#111"/>
<rect x="199.60" y="544.10" width="1.6" height="1.4" fill="#111"/>
<rect x="199.60" y="545.50" width="1.6" height="1.4" fill="#111"/>
<line x1="206.32" y1="536.50" x2="206.32" y2="533.90" stroke="#1a1a1a" stroke-width="0.8"/>
<line x1="204.82" y1="533.90" x2="207.82" y2="533.90" stroke="#1a1a1a" stroke-width="0.8"/>
<rect x="205.20" y="519.10" width="1.6" height="1.4" fill="#111"/>
<rect x="205.20" y="531.90" width="1.6" height="1.4" fill="#111"/>
<rect x="205.20" y="537.60" width="1.6" height="1.4" fill="#111"/>
<rect x="205.20" y="540.20" width="1.6" height="1.4" fill="#111"/>
<rect x="205.20" y="543.30" width="1.6" height="1.4" fill="#111"/>
<line x1="212.07" y1="533.00" x2="212.07" y2="531.00" stroke="#1a1a1a" stroke-width="0.8"/>
<line x1="210.57" y1="531.00" x2="213.57" y2="531.00" stroke="#1a1a1a" stroke-width="0.8"/>
<circle cx="211.60" cy="537.40" r="0.7" fill="#8f8f8f"/>
<circle cx="211.60" cy="538.70" r="0.7" fill="#8f8f8f"/>
<circle cx="211.60" cy="540.00" r="0.7" fill="#8f8f8f"/>
<line x1="217.82" y1="534.10" x2="217.82" y2="532.60" stroke="#1a1a1a" stroke-width="0.8"/>
<line x1="216.32" y1="532.60" x2="219.32" y2="532.60" stroke="#1a1a1a" stroke-width="0.8"/>
<circle cx="217.50" cy="526.40" r="0.7" fill="#8f8f8f"/>
<circle cx="217.50" cy="527.70" r="0.7" fill="#8f8f8f"/>
<circle cx="217.50" cy="529.00" r="0.7" fill="#8f8f8f"/>
<circle cx="217.50" cy="536.00" r="0.7" fill="#8f8f8f"/>
<circle cx="217.50" cy="538.70" r="0.7" fill="#8f8f8f"/>
<circle cx="217.50" cy="540.30" r="0.7" fill="#8f8f8f"/>
<path d="M226.20 554.00V541.30H231.95V554.00" fill="#fff" stroke="#1a1a1a" stroke-width="1.0"/>
<path d="M231.95 554.00V546.60H237.70V554.00" fill="#fff" stroke="#1a1a1a" stroke-width="1.0"/>
<path d="M237.70 554.00V545.70H243.45V554.00" fill="#fff" stroke="#1a1a1a" stroke-width="1.0"/>
<path d="M243.45 554.00V547.50H249.20V554.00" fill="#fff" stroke="#1a1a1a" stroke-width="1.0"/>
<path d="M249.20 554.00V545.30H254.95V554.00" fill="#fff" stroke="#1a1a1a" stroke-width="1.0"/>
<path d="M254.95 554.00V544.80H260.70V554.00" fill="#fff" stroke="#1a1a1a" stroke-width="1.0"/>
<line x1="229.07" y1="541.30" x2="229.07" y2="539.60" stroke="#1a1a1a" stroke-width="0.8"/>
<line x1="227.57" y1="539.60" x2="230.57" y2="539.60" stroke="#1a1a1a" stroke-width="0.8"/>
<circle cx="229.10" cy="536.10" r="0.95" fill="#0bb10b"/>
<circle cx="227.80" cy="540.00" r="0.95" fill="#0bb10b"/>
<circle cx="229.10" cy="539.20" r="0.95" fill="#0bb10b"/>
<circle cx="230.40" cy="540.00" r="0.95" fill="#0bb10b"/>
<circle cx="227.80" cy="545.90" r="0.95" fill="#0bb10b"/>
<circle cx="230.00" cy="545.30" r="0.95" fill="#0bb10b"/>
<line x1="234.82" y1="546.60" x2="234.82" y2="545.20" stroke="#1a1a1a" stroke-width="0.8"/>
<line x1="233.32" y1="545.20" x2="236.32" y2="545.20" stroke="#1a1a1a" stroke-width="0.8"/>
<circle cx="234.80" cy="541.80" r="0.95" fill="#0bb10b"/>
<circle cx="234.80" cy="543.10" r="0.95" fill="#0bb10b"/>
<circle cx="233.50" cy="546.60" r="0.95" fill="#0bb10b"/>
<circle cx="236.10" cy="546.60" r="0.95" fill="#0bb10b"/>
<circle cx="233.10" cy="548.50" r="0.95" fill="#0bb10b"/>
<circle cx="236.60" cy="548.00" r="0.95" fill="#0bb10b"/>
<line x1="240.57" y1="545.70" x2="240.57" y2="544.20" stroke="#1a1a1a" stroke-width="0.8"/>
<line x1="239.07" y1="544.20" x2="242.07" y2="544.20" stroke="#1a1a1a" stroke-width="0.8"/>
<rect x="238.10" y="540.60" width="1.6" height="1.4" fill="#111"/>
<rect x="240.20" y="541.90" width="1.6" height="1.4" fill="#111"/>
<rect x="238.90" y="543.30" width="1.6" height="1.4" fill="#111"/>
<rect x="240.20" y="544.60" width="1.6" height="1.4" fill="#111"/>
<rect x="239.40" y="547.70" width="1.6" height="1.4" fill="#111"/>
<line x1="246.32" y1="547.50" x2="246.32" y2="546.00" stroke="#1a1a1a" stroke-width="0.8"/>
<line x1="244.82" y1="546.00" x2="247.82" y2="546.00" stroke="#1a1a1a" stroke-width="0.8"/>
<rect x="244.60" y="542.80" width="1.6" height="1.4" fill="#111"/>
<rect x="246.00" y="542.80" width="1.6" height="1.4" fill="#111"/>
<rect x="244.60" y="545.90" width="1.6" height="1.4" fill="#111"/>
<rect x="246.00" y="546.80" width="1.6" height="1.4" fill="#111"/>
<line x1="252.07" y1="545.30" x2="252.07" y2="543.80" stroke="#1a1a1a" stroke-width="0.8"/>
<line x1="250.57" y1="543.80" x2="253.57" y2="543.80" stroke="#1a1a1a" stroke-width="0.8"/>
<circle cx="250.30" cy="541.30" r="0.7" fill="#8f8f8f"/>
<circle cx="252.00" cy="541.80" r="0.7" fill="#8f8f8f"/>
<circle cx="252.90" cy="543.10" r="0.7" fill="#8f8f8f"/>
<circle cx="251.60" cy="544.40" r="0.7" fill="#8f8f8f"/>
<circle cx="252.00" cy="546.60" r="0.7" fill="#8f8f8f"/>
<line x1="257.82" y1="544.80" x2="257.82" y2="543.20" stroke="#1a1a1a" stroke-width="0.8"/>
<line x1="256.32" y1="543.20" x2="259.32" y2="543.20" stroke="#1a1a1a" stroke-width="0.8"/>
<circle cx="255.50" cy="540.90" r="0.7" fill="#8f8f8f"/>
<circle cx="257.70" cy="541.30" r="0.7" fill="#8f8f8f"/>
<circle cx="257.70" cy="543.50" r="0.7" fill="#8f8f8f"/>
<circle cx="257.70" cy="545.70" r="0.7" fill="#8f8f8f"/>
<circle cx="257.70" cy="547.90" r="0.7" fill="#8f8f8f"/>
<path d="M266.20 554.00V470.40H271.95V554.00" fill="#fff" stroke="#1a1a1a" stroke-width="1.0"/>
<path d="M271.95 554.00V474.60H277.70V554.00" fill="#fff" stroke="#1a1a1a" stroke-width="1.0"/>
<path d="M277.70 554.00V469.70H283.45V554.00" fill="#fff" stroke="#1a1a1a" stroke-width="1.0"/>
<path d="M283.45 554.00V473.50H289.20V554.00" fill="#fff" stroke="#1a1a1a" stroke-width="1.0"/>
<path d="M289.20 554.00V474.60H294.95V554.00" fill="#fff" stroke="#1a1a1a" stroke-width="1.0"/>
<path d="M294.95 554.00V475.40H300.70V554.00" fill="#fff" stroke="#1a1a1a" stroke-width="1.0"/>
<line x1="269.07" y1="470.40" x2="269.07" y2="469.10" stroke="#1a1a1a" stroke-width="0.8"/>
<line x1="267.57" y1="469.10" x2="270.57" y2="469.10" stroke="#1a1a1a" stroke-width="0.8"/>
<circle cx="267.30" cy="461.00" r="0.95" fill="#0bb10b"/>
<circle cx="268.60" cy="461.80" r="0.95" fill="#0bb10b"/>
<circle cx="270.40" cy="462.70" r="0.95" fill="#0bb10b"/>
<circle cx="267.70" cy="468.00" r="0.95" fill="#0bb10b"/>
<circle cx="269.50" cy="468.00" r="0.95" fill="#0bb10b"/>
<circle cx="270.40" cy="468.60" r="0.95" fill="#0bb10b"/>
<circle cx="268.20" cy="471.90" r="0.95" fill="#0bb10b"/>
<circle cx="269.90" cy="471.90" r="0.95" fill="#0bb10b"/>
<circle cx="269.00" cy="485.10" r="0.95" fill="#0bb10b"/>
<line x1="274.82" y1="474.60" x2="274.82" y2="470.60" stroke="#1a1a1a" stroke-width="0.8"/>
<line x1="273.32" y1="470.60" x2="276.32" y2="470.60" stroke="#1a1a1a" stroke-width="0.8"/>
<circle cx="273.00" cy="466.70" r="0.95" fill="#0bb10b"/>
<circle cx="274.50" cy="464.90" r="0.95" fill="#0bb10b"/>
<circle cx="276.00" cy="466.20" r="0.95" fill="#0bb10b"/>
<circle cx="274.50" cy="478.50" r="0.95" fill="#0bb10b"/>
<circle cx="273.20" cy="485.50" r="0.95" fill="#0bb10b"/>
<circle cx="276.00" cy="485.10" r="0.95" fill="#0bb10b"/>
<line x1="280.57" y1="469.70" x2="280.57" y2="466.40" stroke="#1a1a1a" stroke-width="0.8"/>
<line x1="279.07" y1="466.40" x2="282.07" y2="466.40" stroke="#1a1a1a" stroke-width="0.8"/>
<rect x="279.60" y="461.10" width="1.6" height="1.4" fill="#111"/>
<rect x="279.60" y="465.10" width="1.6" height="1.4" fill="#111"/>
<rect x="279.60" y="472.10" width="1.6" height="1.4" fill="#111"/>
<rect x="279.60" y="475.60" width="1.6" height="1.4" fill="#111"/>
<line x1="286.32" y1="473.50" x2="286.32" y2="472.60" stroke="#1a1a1a" stroke-width="0.8"/>
<line x1="284.82" y1="472.60" x2="287.82" y2="472.60" stroke="#1a1a1a" stroke-width="0.8"/>
<rect x="284.00" y="468.20" width="1.6" height="1.4" fill="#111"/>
<rect x="286.70" y="469.50" width="1.6" height="1.4" fill="#111"/>
<rect x="285.30" y="474.70" width="1.6" height="1.4" fill="#111"/>
<rect x="285.30" y="476.10" width="1.6" height="1.4" fill="#111"/>
<rect x="285.30" y="477.40" width="1.6" height="1.4" fill="#111"/>
<line x1="292.07" y1="474.60" x2="292.07" y2="473.50" stroke="#1a1a1a" stroke-width="0.8"/>
<line x1="290.57" y1="473.50" x2="293.57" y2="473.50" stroke="#1a1a1a" stroke-width="0.8"/>
<circle cx="292.00" cy="468.00" r="0.7" fill="#8f8f8f"/>
<circle cx="291.40" cy="471.90" r="0.7" fill="#8f8f8f"/>
<circle cx="293.20" cy="471.90" r="0.7" fill="#8f8f8f"/>
<circle cx="292.00" cy="481.10" r="0.7" fill="#8f8f8f"/>
<line x1="297.82" y1="475.40" x2="297.82" y2="474.40" stroke="#1a1a1a" stroke-width="0.8"/>
<line x1="296.32" y1="474.40" x2="299.32" y2="474.40" stroke="#1a1a1a" stroke-width="0.8"/>
<circle cx="296.10" cy="468.90" r="0.7" fill="#8f8f8f"/>
<circle cx="298.90" cy="470.20" r="0.7" fill="#8f8f8f"/>
<circle cx="297.50" cy="473.20" r="0.7" fill="#8f8f8f"/>
<circle cx="297.50" cy="482.90" r="0.7" fill="#8f8f8f"/>
<path d="M211.6 526.4L213.8 528.6L211.6 530.8L209.4 528.6Z" fill="none" stroke="#8f8f8f" stroke-width="0.6"/>
<line x1="143.30" y1="447.00" x2="143.30" y2="554.50" stroke="#1a1a1a" stroke-width="1"/>
<line x1="142.80" y1="554.00" x2="304.30" y2="554.00" stroke="#1a1a1a" stroke-width="1"/>
<line x1="143.30" y1="447.50" x2="146.90" y2="447.50" stroke="#1a1a1a" stroke-width="1"/>
<text x="140.30" y="451.10" font-size="10.1" text-anchor="end" fill="#111">2.0</text>
<line x1="143.30" y1="474.10" x2="146.90" y2="474.10" stroke="#1a1a1a" stroke-width="1"/>
<text x="140.30" y="477.70" font-size="10.1" text-anchor="end" fill="#111">1.5</text>
<line x1="143.30" y1="500.80" x2="146.90" y2="500.80" stroke="#1a1a1a" stroke-width="1"/>
<text x="140.30" y="504.40" font-size="10.1" text-anchor="end" fill="#111">1.0</text>
<line x1="143.30" y1="527.40" x2="146.90" y2="527.40" stroke="#1a1a1a" stroke-width="1"/>
<text x="140.30" y="531.00" font-size="10.1" text-anchor="end" fill="#111">0.5</text>
<line x1="143.30" y1="554.00" x2="146.90" y2="554.00" stroke="#1a1a1a" stroke-width="1"/>
<text x="140.30" y="557.60" font-size="10.1" text-anchor="end" fill="#111">0.0</text>
<text x="122.00" y="498.80" font-size="10.2" text-anchor="middle" fill="#111" transform="rotate(-90 122.00 498.80)">Tissue weight (g)</text>
<text x="163.50" y="564.80" font-size="9.2" text-anchor="middle" fill="#111">epi</text>
<text x="203.50" y="564.80" font-size="9.2" text-anchor="middle" fill="#111">peri</text>
<text x="243.50" y="564.80" font-size="9.2" text-anchor="middle" fill="#111">sub</text>
<text x="283.50" y="564.80" font-size="9.2" text-anchor="middle" fill="#111">liver</text>
<line x1="147.00" y1="570.60" x2="258.90" y2="570.60" stroke="#222" stroke-width="0.8"/>
<text x="203.40" y="582.30" font-size="9.2" text-anchor="middle" fill="#111">WAT</text>
<path d="M147.50 449.40V447.60H153.80V449.40" fill="none" stroke="#333" stroke-width="0.6"/>
<text x="140.00" y="444.90" font-size="5.0" fill="#000" textLength="21.4" lengthAdjust="spacingAndGlyphs"><tspan font-style="italic">P</tspan> = 0.0379</text>
<path d="M188.00 449.40V447.60H193.40V449.40" fill="none" stroke="#333" stroke-width="0.6"/>
<text x="180.30" y="444.90" font-size="5.0" fill="#000" textLength="21.4" lengthAdjust="spacingAndGlyphs"><tspan font-style="italic">P</tspan> = 0.0111</text>
<path d="M228.30 449.40V447.60H234.60V449.40" fill="none" stroke="#333" stroke-width="0.6"/>
<text x="220.60" y="444.90" font-size="5.0" fill="#000" textLength="21.4" lengthAdjust="spacingAndGlyphs"><tspan font-style="italic">P</tspan> = 0.0082</text>
<path d="M343.90 534.50V467.50H356.10V534.50" fill="#fff" stroke="#1a1a1a" stroke-width="0.9"/>
<path d="M343.90 554.30V543.50M356.10 543.50V554.30" fill="none" stroke="#1a1a1a" stroke-width="0.9"/>
<path d="M362.20 534.50V496.20H374.40V534.50" fill="#fff" stroke="#1a1a1a" stroke-width="0.9"/>
<path d="M362.20 554.30V543.50M374.40 543.50V554.30" fill="none" stroke="#1a1a1a" stroke-width="0.9"/>
<path d="M380.60 534.50V483.20H392.90V534.50" fill="#fff" stroke="#1a1a1a" stroke-width="0.9"/>
<path d="M380.60 554.30V543.50M392.90 543.50V554.30" fill="none" stroke="#1a1a1a" stroke-width="0.9"/>
<path d="M398.90 534.50V489.50H411.10V534.50" fill="#fff" stroke="#1a1a1a" stroke-width="0.9"/>
<path d="M398.90 554.30V543.50M411.10 543.50V554.30" fill="none" stroke="#1a1a1a" stroke-width="0.9"/>
<path d="M417.20 534.50V483.20H429.40V534.50" fill="#fff" stroke="#1a1a1a" stroke-width="0.9"/>
<path d="M417.20 554.30V543.50M429.40 543.50V554.30" fill="none" stroke="#1a1a1a" stroke-width="0.9"/>
<path d="M435.60 534.50V486.20H447.90V534.50" fill="#fff" stroke="#1a1a1a" stroke-width="0.9"/>
<path d="M435.60 554.30V543.50M447.90 543.50V554.30" fill="none" stroke="#1a1a1a" stroke-width="0.9"/>
<line x1="350.00" y1="467.50" x2="350.00" y2="463.20" stroke="#1a1a1a" stroke-width="0.8"/>
<line x1="346.80" y1="463.20" x2="353.20" y2="463.20" stroke="#1a1a1a" stroke-width="0.8"/>
<line x1="368.30" y1="496.20" x2="368.30" y2="489.20" stroke="#1a1a1a" stroke-width="0.8"/>
<line x1="365.10" y1="489.20" x2="371.50" y2="489.20" stroke="#1a1a1a" stroke-width="0.8"/>
<line x1="386.75" y1="483.20" x2="386.75" y2="474.50" stroke="#1a1a1a" stroke-width="0.8"/>
<line x1="383.55" y1="474.50" x2="389.95" y2="474.50" stroke="#1a1a1a" stroke-width="0.8"/>
<line x1="405.00" y1="489.50" x2="405.00" y2="480.70" stroke="#1a1a1a" stroke-width="0.8"/>
<line x1="401.80" y1="480.70" x2="408.20" y2="480.70" stroke="#1a1a1a" stroke-width="0.8"/>
<line x1="423.30" y1="483.20" x2="423.30" y2="473.20" stroke="#1a1a1a" stroke-width="0.8"/>
<line x1="420.10" y1="473.20" x2="426.50" y2="473.20" stroke="#1a1a1a" stroke-width="0.8"/>
<line x1="441.75" y1="486.20" x2="441.75" y2="479.50" stroke="#1a1a1a" stroke-width="0.8"/>
<line x1="438.55" y1="479.50" x2="444.95" y2="479.50" stroke="#1a1a1a" stroke-width="0.8"/>
<line x1="338.00" y1="437.80" x2="338.00" y2="535.00" stroke="#1a1a1a" stroke-width="1"/>
<line x1="338.00" y1="543.00" x2="338.00" y2="554.80" stroke="#1a1a1a" stroke-width="1"/>
<line x1="334.80" y1="534.50" x2="341.20" y2="534.50" stroke="#1a1a1a" stroke-width="1"/>
<line x1="334.80" y1="543.50" x2="341.20" y2="543.50" stroke="#1a1a1a" stroke-width="1"/>
<line x1="337.50" y1="554.30" x2="454.00" y2="554.30" stroke="#1a1a1a" stroke-width="1"/>
<line x1="338.00" y1="438.30" x2="341.60" y2="438.30" stroke="#1a1a1a" stroke-width="1"/>
<text x="334.40" y="441.25" font-size="8.2" text-anchor="end" fill="#111">230</text>
<line x1="338.00" y1="465.80" x2="341.60" y2="465.80" stroke="#1a1a1a" stroke-width="1"/>
<text x="334.40" y="468.75" font-size="8.2" text-anchor="end" fill="#111">210</text>
<line x1="338.00" y1="493.30" x2="341.60" y2="493.30" stroke="#1a1a1a" stroke-width="1"/>
<text x="334.40" y="496.25" font-size="8.2" text-anchor="end" fill="#111">190</text>
<line x1="338.00" y1="520.80" x2="341.60" y2="520.80" stroke="#1a1a1a" stroke-width="1"/>
<text x="334.40" y="523.75" font-size="8.2" text-anchor="end" fill="#111">170</text>
<line x1="338.00" y1="554.30" x2="341.60" y2="554.30" stroke="#1a1a1a" stroke-width="1"/>
<text x="334.40" y="557.25" font-size="8.2" text-anchor="end" fill="#111">0</text>
<circle cx="350.00" cy="452.00" r="1.85" fill="#fff" fill-opacity="0.0" stroke="#0bb10b" stroke-width="0.85"/>
<circle cx="350.00" cy="455.80" r="1.85" fill="#fff" fill-opacity="0.0" stroke="#0bb10b" stroke-width="0.85"/>
<circle cx="345.80" cy="467.00" r="1.85" fill="#fff" fill-opacity="0.0" stroke="#0bb10b" stroke-width="0.85"/>
<circle cx="350.00" cy="466.20" r="1.85" fill="#fff" fill-opacity="0.0" stroke="#0bb10b" stroke-width="0.85"/>
<circle cx="354.30" cy="468.20" r="1.85" fill="#fff" fill-opacity="0.0" stroke="#0bb10b" stroke-width="0.85"/>
<circle cx="350.00" cy="476.20" r="1.85" fill="#fff" fill-opacity="0.0" stroke="#0bb10b" stroke-width="0.85"/>
<circle cx="350.00" cy="483.20" r="1.85" fill="#fff" fill-opacity="0.0" stroke="#0bb10b" stroke-width="0.85"/>
<circle cx="364.10" cy="473.00" r="2.00" fill="#0bb10b"/>
<circle cx="372.60" cy="474.00" r="2.00" fill="#0bb10b"/>
<circle cx="368.30" cy="490.50" r="2.00" fill="#0bb10b"/>
<circle cx="368.30" cy="497.50" r="2.00" fill="#0bb10b"/>
<circle cx="364.10" cy="507.00" r="2.00" fill="#0bb10b"/>
<circle cx="372.60" cy="507.00" r="2.00" fill="#0bb10b"/>
<circle cx="368.30" cy="522.50" r="2.00" fill="#0bb10b"/>
<circle cx="386.80" cy="461.50" r="1.85" fill="#fff" fill-opacity="0.0" stroke="#000000" stroke-width="0.85"/>
<circle cx="390.80" cy="475.50" r="1.85" fill="#fff" fill-opacity="0.0" stroke="#000000" stroke-width="0.85"/>
<circle cx="382.60" cy="478.20" r="1.85" fill="#fff" fill-opacity="0.0" stroke="#000000" stroke-width="0.85"/>
<circle cx="386.80" cy="486.20" r="1.85" fill="#fff" fill-opacity="0.0" stroke="#000000" stroke-width="0.85"/>
<circle cx="386.80" cy="513.00" r="1.85" fill="#fff" fill-opacity="0.0" stroke="#000000" stroke-width="0.85"/>
<circle cx="405.00" cy="463.00" r="2.00" fill="#000000"/>
<circle cx="405.00" cy="467.10" r="2.00" fill="#000000"/>
<circle cx="405.00" cy="471.20" r="2.00" fill="#000000"/>
<circle cx="405.00" cy="488.70" r="2.00" fill="#000000"/>
<circle cx="405.00" cy="497.50" r="2.00" fill="#000000"/>
<circle cx="405.00" cy="513.70" r="2.00" fill="#000000"/>
<circle cx="405.00" cy="522.50" r="2.00" fill="#000000"/>
<circle cx="423.30" cy="461.70" r="1.85" fill="#fff" fill-opacity="0.0" stroke="#808080" stroke-width="0.85"/>
<circle cx="423.30" cy="465.80" r="1.85" fill="#fff" fill-opacity="0.0" stroke="#808080" stroke-width="0.85"/>
<circle cx="423.30" cy="475.00" r="1.85" fill="#fff" fill-opacity="0.0" stroke="#808080" stroke-width="0.85"/>
<circle cx="423.30" cy="503.00" r="1.85" fill="#fff" fill-opacity="0.0" stroke="#808080" stroke-width="0.85"/>
<circle cx="423.30" cy="508.20" r="1.85" fill="#fff" fill-opacity="0.0" stroke="#808080" stroke-width="0.85"/>
<circle cx="441.80" cy="457.50" r="2.00" fill="#808080"/>
<circle cx="441.80" cy="471.20" r="2.00" fill="#808080"/>
<circle cx="437.60" cy="488.70" r="2.00" fill="#808080"/>
<circle cx="446.30" cy="489.50" r="2.00" fill="#808080"/>
<circle cx="441.80" cy="492.50" r="2.00" fill="#808080"/>
<circle cx="446.30" cy="495.00" r="2.00" fill="#808080"/>
<circle cx="441.80" cy="508.70" r="2.00" fill="#808080"/>
<text x="350.00" y="563.40" font-size="8" text-anchor="middle" fill="#111">-</text>
<text x="368.30" y="563.40" font-size="8" text-anchor="middle" fill="#111">+</text>
<text x="386.75" y="563.40" font-size="8" text-anchor="middle" fill="#111">-</text>
<text x="405.00" y="563.40" font-size="8" text-anchor="middle" fill="#111">+</text>
<text x="423.30" y="563.40" font-size="8" text-anchor="middle" fill="#111">-</text>
<text x="441.75" y="563.40" font-size="8" text-anchor="middle" fill="#111">+</text>
<line x1="343.50" y1="566.40" x2="374.80" y2="566.40" stroke="#444" stroke-width="0.9"/>
<text x="359.15" y="575.80" font-size="8.2" text-anchor="middle" fill="#111">Sucrose</text>
<line x1="380.20" y1="566.40" x2="411.50" y2="566.40" stroke="#444" stroke-width="0.9"/>
<text x="395.85" y="575.80" font-size="8.2" text-anchor="middle" fill="#111">Glucose</text>
<line x1="416.80" y1="566.40" x2="448.30" y2="566.40" stroke="#444" stroke-width="0.9"/>
<text x="432.55" y="575.80" font-size="8.2" text-anchor="middle" fill="#111">Fructose</text>
<text x="453.80" y="565.70" font-size="8.7" text-anchor="start" fill="#111" font-style="italic">S. salivarius</text>
<text x="317.90" y="537.15" font-size="8.7" fill="#111" textLength="81.5" lengthAdjust="spacingAndGlyphs" transform="rotate(-90 317.90 537.15)">Blood glucose (mg/dL)</text>
<path d="M350.20 440.20V438.30H368.60V440.20" fill="none" stroke="#333" stroke-width="0.6"/>
<text x="349.75" y="435.00" font-size="5.1" fill="#000" textLength="19.3" lengthAdjust="spacingAndGlyphs"><tspan font-style="italic">P</tspan> = 0.007</text>
<path d="M528.80 554.30V505.50H540.80V554.30" fill="#fff" stroke="#1a1a1a" stroke-width="0.9"/>
<path d="M547.10 554.30V480.70H559.10V554.30" fill="#fff" stroke="#1a1a1a" stroke-width="0.9"/>
<path d="M565.50 554.30V492.50H577.50V554.30" fill="#fff" stroke="#1a1a1a" stroke-width="0.9"/>
<path d="M583.80 554.30V480.50H595.80V554.30" fill="#fff" stroke="#1a1a1a" stroke-width="0.9"/>
<path d="M602.40 554.30V498.20H614.30V554.30" fill="#fff" stroke="#1a1a1a" stroke-width="0.9"/>
<path d="M620.80 554.30V484.20H632.80V554.30" fill="#fff" stroke="#1a1a1a" stroke-width="0.9"/>
<line x1="534.80" y1="505.50" x2="534.80" y2="501.20" stroke="#1a1a1a" stroke-width="0.8"/>
<line x1="531.60" y1="501.20" x2="538.00" y2="501.20" stroke="#1a1a1a" stroke-width="0.8"/>
<line x1="553.10" y1="480.70" x2="553.10" y2="473.20" stroke="#1a1a1a" stroke-width="0.8"/>
<line x1="549.90" y1="473.20" x2="556.30" y2="473.20" stroke="#1a1a1a" stroke-width="0.8"/>
<line x1="571.50" y1="492.50" x2="571.50" y2="485.50" stroke="#1a1a1a" stroke-width="0.8"/>
<line x1="568.30" y1="485.50" x2="574.70" y2="485.50" stroke="#1a1a1a" stroke-width="0.8"/>
<line x1="589.80" y1="480.50" x2="589.80" y2="472.50" stroke="#1a1a1a" stroke-width="0.8"/>
<line x1="586.60" y1="472.50" x2="593.00" y2="472.50" stroke="#1a1a1a" stroke-width="0.8"/>
<line x1="608.35" y1="498.20" x2="608.35" y2="495.70" stroke="#1a1a1a" stroke-width="0.8"/>
<line x1="605.15" y1="495.70" x2="611.55" y2="495.70" stroke="#1a1a1a" stroke-width="0.8"/>
<line x1="626.80" y1="484.20" x2="626.80" y2="474.50" stroke="#1a1a1a" stroke-width="0.8"/>
<line x1="623.60" y1="474.50" x2="630.00" y2="474.50" stroke="#1a1a1a" stroke-width="0.8"/>
<line x1="522.50" y1="437.80" x2="522.50" y2="554.80" stroke="#1a1a1a" stroke-width="1"/>
<line x1="522.00" y1="554.30" x2="639.30" y2="554.30" stroke="#1a1a1a" stroke-width="1"/>
<line x1="522.50" y1="438.30" x2="526.10" y2="438.30" stroke="#1a1a1a" stroke-width="1"/>
<text x="507.90" y="440.50" font-size="6.1" fill="#111" textLength="10.6" lengthAdjust="spacingAndGlyphs">2.5</text>
<line x1="522.50" y1="461.50" x2="526.10" y2="461.50" stroke="#1a1a1a" stroke-width="1"/>
<text x="507.90" y="463.70" font-size="6.1" fill="#111" textLength="10.6" lengthAdjust="spacingAndGlyphs">2.0</text>
<line x1="522.50" y1="484.70" x2="526.10" y2="484.70" stroke="#1a1a1a" stroke-width="1"/>
<text x="507.90" y="486.90" font-size="6.1" fill="#111" textLength="10.6" lengthAdjust="spacingAndGlyphs">1.5</text>
<line x1="522.50" y1="507.90" x2="526.10" y2="507.90" stroke="#1a1a1a" stroke-width="1"/>
<text x="507.90" y="510.10" font-size="6.1" fill="#111" textLength="10.6" lengthAdjust="spacingAndGlyphs">1.0</text>
<line x1="522.50" y1="531.10" x2="526.10" y2="531.10" stroke="#1a1a1a" stroke-width="1"/>
<text x="507.90" y="533.30" font-size="6.1" fill="#111" textLength="10.6" lengthAdjust="spacingAndGlyphs">0.5</text>
<line x1="522.50" y1="554.30" x2="526.10" y2="554.30" stroke="#1a1a1a" stroke-width="1"/>
<text x="507.90" y="556.50" font-size="6.1" fill="#111" textLength="10.6" lengthAdjust="spacingAndGlyphs">0.0</text>
<circle cx="532.50" cy="492.00" r="1.85" fill="#fff" fill-opacity="0.0" stroke="#0bb10b" stroke-width="0.85"/>
<circle cx="537.00" cy="492.00" r="1.85" fill="#fff" fill-opacity="0.0" stroke="#0bb10b" stroke-width="0.85"/>
<circle cx="534.60" cy="502.50" r="1.85" fill="#fff" fill-opacity="0.0" stroke="#0bb10b" stroke-width="0.85"/>
<circle cx="534.60" cy="509.50" r="1.85" fill="#fff" fill-opacity="0.0" stroke="#0bb10b" stroke-width="0.85"/>
<circle cx="532.50" cy="513.70" r="1.85" fill="#fff" fill-opacity="0.0" stroke="#0bb10b" stroke-width="0.85"/>
<circle cx="538.80" cy="513.70" r="1.85" fill="#fff" fill-opacity="0.0" stroke="#0bb10b" stroke-width="0.85"/>
<circle cx="530.10" cy="516.20" r="1.85" fill="#fff" fill-opacity="0.0" stroke="#0bb10b" stroke-width="0.85"/>
<circle cx="553.00" cy="446.20" r="2.00" fill="#0bb10b"/>
<circle cx="553.00" cy="469.50" r="2.00" fill="#0bb10b"/>
<circle cx="548.80" cy="478.70" r="2.00" fill="#0bb10b"/>
<circle cx="557.10" cy="478.70" r="2.00" fill="#0bb10b"/>
<circle cx="548.80" cy="492.50" r="2.00" fill="#0bb10b"/>
<circle cx="557.10" cy="495.00" r="2.00" fill="#0bb10b"/>
<circle cx="553.00" cy="503.20" r="2.00" fill="#0bb10b"/>
<circle cx="571.70" cy="467.50" r="1.85" fill="#fff" fill-opacity="0.0" stroke="#000000" stroke-width="0.85"/>
<circle cx="571.70" cy="494.50" r="1.85" fill="#fff" fill-opacity="0.0" stroke="#000000" stroke-width="0.85"/>
<circle cx="568.00" cy="498.70" r="1.85" fill="#fff" fill-opacity="0.0" stroke="#000000" stroke-width="0.85"/>
<circle cx="575.50" cy="500.50" r="1.85" fill="#fff" fill-opacity="0.0" stroke="#000000" stroke-width="0.85"/>
<circle cx="571.70" cy="497.50" r="1.85" fill="#fff" fill-opacity="0.0" stroke="#000000" stroke-width="0.85"/>
<circle cx="585.60" cy="455.00" r="2.00" fill="#000000"/>
<circle cx="594.30" cy="457.00" r="2.00" fill="#000000"/>
<circle cx="590.00" cy="478.20" r="2.00" fill="#000000"/>
<circle cx="585.60" cy="483.70" r="2.00" fill="#000000"/>
<circle cx="594.30" cy="483.70" r="2.00" fill="#000000"/>
<circle cx="590.00" cy="492.00" r="2.00" fill="#000000"/>
<circle cx="590.00" cy="509.50" r="2.00" fill="#000000"/>
<circle cx="608.30" cy="492.00" r="1.85" fill="#fff" fill-opacity="0.0" stroke="#808080" stroke-width="0.85"/>
<circle cx="604.30" cy="497.00" r="1.85" fill="#fff" fill-opacity="0.0" stroke="#808080" stroke-width="0.85"/>
<circle cx="612.50" cy="496.20" r="1.85" fill="#fff" fill-opacity="0.0" stroke="#808080" stroke-width="0.85"/>
<circle cx="608.30" cy="500.00" r="1.85" fill="#fff" fill-opacity="0.0" stroke="#808080" stroke-width="0.85"/>
<circle cx="608.30" cy="506.70" r="1.85" fill="#fff" fill-opacity="0.0" stroke="#808080" stroke-width="0.85"/>
<circle cx="622.60" cy="448.50" r="2.00" fill="#808080"/>
<circle cx="631.10" cy="449.50" r="2.00" fill="#808080"/>
<circle cx="626.80" cy="483.70" r="2.00" fill="#808080"/>
<circle cx="626.80" cy="492.50" r="2.00" fill="#808080"/>
<circle cx="626.80" cy="496.20" r="2.00" fill="#808080"/>
<circle cx="626.80" cy="505.00" r="2.00" fill="#808080"/>
<circle cx="626.80" cy="510.00" r="2.00" fill="#808080"/>
<text x="534.80" y="563.60" font-size="6.5" text-anchor="middle" fill="#111">-</text>
<text x="553.10" y="563.60" font-size="6.5" text-anchor="middle" fill="#111">+</text>
<text x="571.50" y="563.60" font-size="6.5" text-anchor="middle" fill="#111">-</text>
<text x="589.80" y="563.60" font-size="6.5" text-anchor="middle" fill="#111">+</text>
<text x="608.35" y="563.60" font-size="6.5" text-anchor="middle" fill="#111">-</text>
<text x="626.80" y="563.60" font-size="6.5" text-anchor="middle" fill="#111">+</text>
<line x1="528.40" y1="566.40" x2="559.50" y2="566.40" stroke="#444" stroke-width="0.9"/>
<text x="543.95" y="575.80" font-size="8.2" text-anchor="middle" fill="#111">Sucrose</text>
<line x1="565.10" y1="566.40" x2="596.20" y2="566.40" stroke="#444" stroke-width="0.9"/>
<text x="580.65" y="575.80" font-size="8.2" text-anchor="middle" fill="#111">Glucose</text>
<line x1="602.00" y1="566.40" x2="633.20" y2="566.40" stroke="#444" stroke-width="0.9"/>
<text x="617.60" y="575.80" font-size="8.2" text-anchor="middle" fill="#111">Fructose</text>
<text x="638.00" y="565.70" font-size="8.7" text-anchor="start" fill="#111" font-style="italic">S. salivarius</text>
<text x="504.00" y="496.50" font-size="8.3" text-anchor="middle" fill="#111" transform="rotate(-90 504.00 496.50)">Plasma GLP-1 (pM)</text>
<path d="M534.70 440.20V438.30H553.50V440.20" fill="none" stroke="#333" stroke-width="0.6"/>
<text x="533.20" y="435.00" font-size="5.1" fill="#000" textLength="21.8" lengthAdjust="spacingAndGlyphs"><tspan font-style="italic">P</tspan> = 0.0111</text>
</svg></body></html>
